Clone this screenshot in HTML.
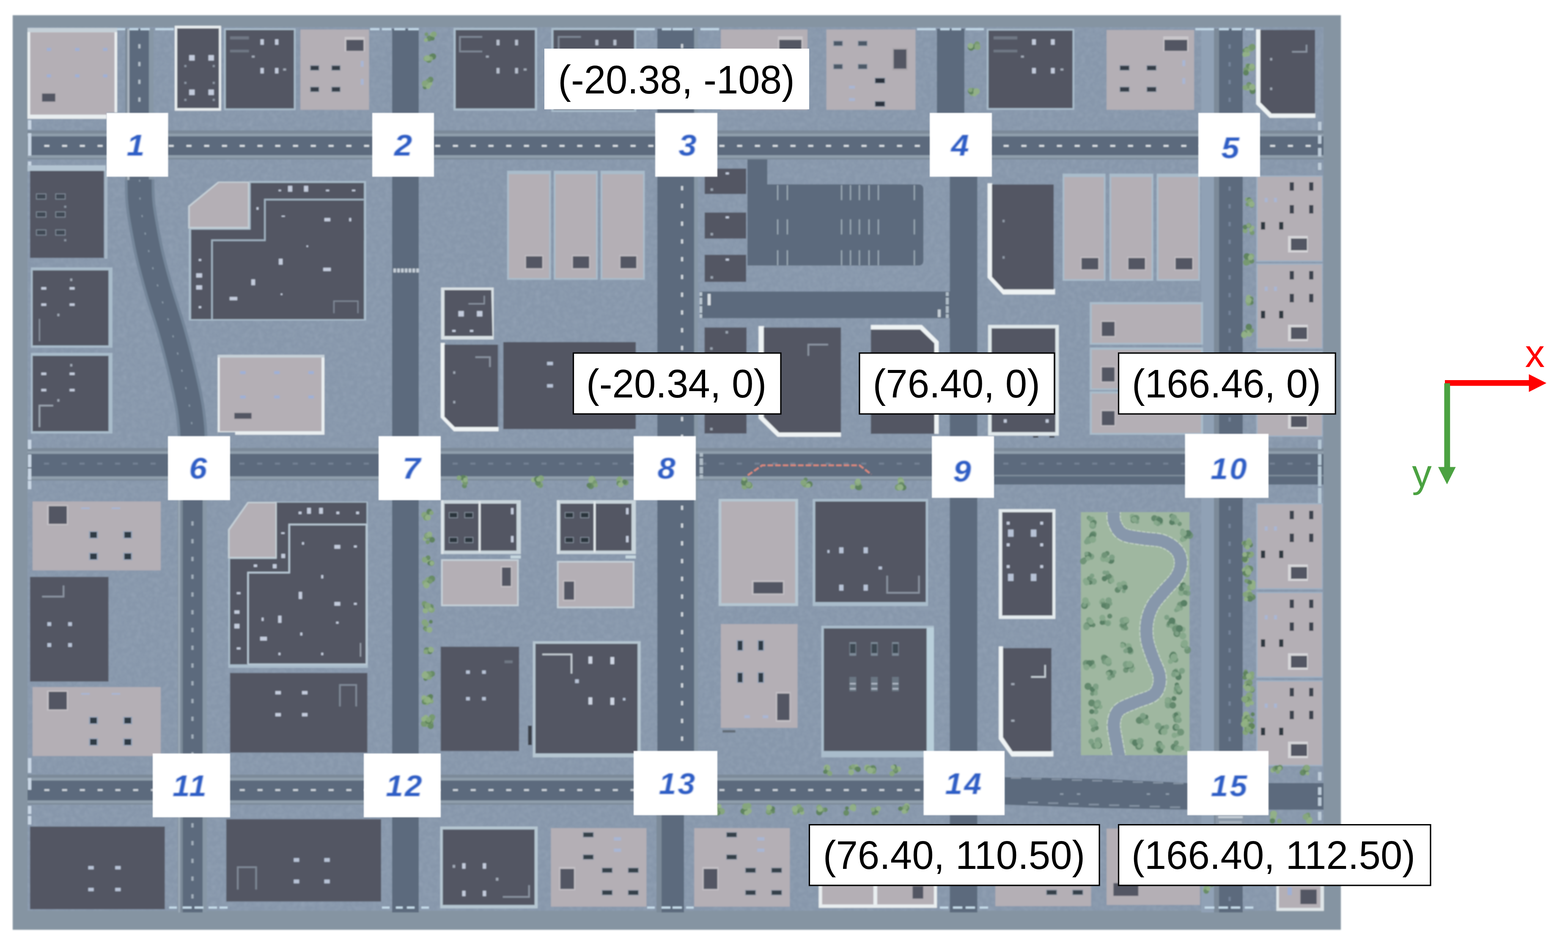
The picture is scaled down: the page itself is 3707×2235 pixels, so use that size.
<!DOCTYPE html>
<html><head><meta charset="utf-8"><title>Town map</title>
<style>
html,body{margin:0;padding:0;background:#fff;}
body{width:3707px;height:2235px;overflow:hidden;}
svg{display:block;}
text{font-family:"Liberation Sans",sans-serif;}
.n{font-weight:bold;font-style:italic;font-size:71px;fill:#2d5ec6;text-anchor:middle;}
.c{font-size:92.4px;fill:#000;text-anchor:middle;}
</style></head><body>
<svg width="3707" height="2235" viewBox="0 0 3707 2235">
<defs>
<filter id="nz" x="0" y="0" width="100%" height="100%"><feTurbulence type="fractalNoise" baseFrequency="0.09" numOctaves="2" seed="4"/><feColorMatrix type="matrix" values="0 0 0 0 0.64  0 0 0 0 0.72  0 0 0 0 0.82  0.9 0.9 0 0 -0.72"/></filter>
<filter id="tb" x="-20%" y="-20%" width="140%" height="140%"><feGaussianBlur stdDeviation="1.3"/></filter>
<filter id="soft" x="-1%" y="-1%" width="102%" height="102%"><feGaussianBlur stdDeviation="1.8"/></filter>
<filter id="soft2" x="-1%" y="-1%" width="102%" height="102%"><feGaussianBlur stdDeviation="1.1"/></filter>
<radialGradient id="tr"><stop offset="0" stop-color="#8fb07f"/><stop offset="0.7" stop-color="#7a9c72"/><stop offset="1" stop-color="#6d8f6c" stop-opacity="0.6"/></radialGradient>
<radialGradient id="tp"><stop offset="0" stop-color="#86a98a"/><stop offset="0.7" stop-color="#76997c"/><stop offset="1" stop-color="#6a8e74" stop-opacity="0.5"/></radialGradient>
</defs>
<g filter="url(#soft)">
<rect x="30.0" y="36.0" width="3140.0" height="2163.0" fill="#8594a2"/>
<rect x="65.0" y="64.0" width="3064.0" height="2090.0" fill="#8797ab"/>
<rect x="65" y="64" width="3064" height="2090" filter="url(#nz)" opacity="0.17"/>
<rect x="296.0" y="68.0" width="10.0" height="382.0" fill="#7b8a99"/>
<rect x="352.0" y="68.0" width="11.0" height="382.0" fill="#8797a6"/>
<rect x="306.0" y="68.0" width="46.0" height="382.0" fill="#5b6a7d"/>
<rect x="326.9" y="104.5" width="5.2" height="10.0" fill="#b4bec9"/>
<rect x="326.9" y="146.5" width="5.2" height="10.0" fill="#b4bec9"/>
<rect x="326.9" y="188.5" width="5.2" height="10.0" fill="#b4bec9"/>
<rect x="326.9" y="230.5" width="5.2" height="10.0" fill="#b4bec9"/>
<rect x="326.9" y="272.5" width="5.2" height="10.0" fill="#b4bec9"/>
<rect x="326.9" y="314.5" width="5.2" height="10.0" fill="#b4bec9"/>
<rect x="326.9" y="356.5" width="5.2" height="10.0" fill="#b4bec9"/>
<rect x="326.9" y="398.5" width="5.2" height="10.0" fill="#b4bec9"/>
<rect x="301.0" y="68.0" width="5.0" height="372.0" fill="#aab6c0"/>
<path d="M330.0,425.0 C330.2,432.5 330.0,455.7 331.0,470.0 C332.0,484.3 332.3,489.3 336.0,511.0 C339.7,532.7 346.2,570.3 353.0,600.0 C359.8,629.7 368.0,659.5 376.5,689.0 C385.0,718.5 395.5,747.5 404.0,777.0 C412.5,806.5 420.3,836.3 427.5,866.0 C434.7,895.7 442.6,931.0 447.0,955.0 C451.4,979.0 452.6,995.0 454.0,1010.0 C455.4,1025.0 455.2,1039.2 455.5,1045.0" fill="none" stroke="#75869a" stroke-width="70"/>
<path d="M330.0,425.0 C330.2,432.5 330.0,455.7 331.0,470.0 C332.0,484.3 332.3,489.3 336.0,511.0 C339.7,532.7 346.2,570.3 353.0,600.0 C359.8,629.7 368.0,659.5 376.5,689.0 C385.0,718.5 395.5,747.5 404.0,777.0 C412.5,806.5 420.3,836.3 427.5,866.0 C434.7,895.7 442.6,931.0 447.0,955.0 C451.4,979.0 452.6,995.0 454.0,1010.0 C455.4,1025.0 455.2,1039.2 455.5,1045.0" fill="none" stroke="#5b6a7d" stroke-width="57"/>
<path d="M330.0,425.0 C330.2,432.5 330.0,455.7 331.0,470.0 C332.0,484.3 332.3,489.3 336.0,511.0 C339.7,532.7 346.2,570.3 353.0,600.0 C359.8,629.7 368.0,659.5 376.5,689.0 C385.0,718.5 395.5,747.5 404.0,777.0 C412.5,806.5 420.3,836.3 427.5,866.0 C434.7,895.7 442.6,931.0 447.0,955.0 C451.4,979.0 452.6,995.0 454.0,1010.0 C455.4,1025.0 455.2,1039.2 455.5,1045.0" fill="none" stroke="#8b99a9" stroke-width="3" stroke-dasharray="5 37" />
<rect x="420.0" y="1180.0" width="12.0" height="978.0" fill="#7b8a99"/>
<rect x="479.0" y="1180.0" width="10.0" height="978.0" fill="#8797a6"/>
<rect x="432.0" y="1180.0" width="47.0" height="978.0" fill="#5b6a7d"/>
<rect x="452.4" y="1233.0" width="5.2" height="10.0" fill="#a3afbc"/>
<rect x="452.4" y="1275.0" width="5.2" height="10.0" fill="#a3afbc"/>
<rect x="452.4" y="1317.0" width="5.2" height="10.0" fill="#a3afbc"/>
<rect x="452.4" y="1359.0" width="5.2" height="10.0" fill="#a3afbc"/>
<rect x="452.4" y="1401.0" width="5.2" height="10.0" fill="#a3afbc"/>
<rect x="452.4" y="1443.0" width="5.2" height="10.0" fill="#a3afbc"/>
<rect x="452.4" y="1485.0" width="5.2" height="10.0" fill="#a3afbc"/>
<rect x="452.4" y="1527.0" width="5.2" height="10.0" fill="#a3afbc"/>
<rect x="452.4" y="1569.0" width="5.2" height="10.0" fill="#a3afbc"/>
<rect x="452.4" y="1611.0" width="5.2" height="10.0" fill="#a3afbc"/>
<rect x="452.4" y="1653.0" width="5.2" height="10.0" fill="#a3afbc"/>
<rect x="452.4" y="1695.0" width="5.2" height="10.0" fill="#a3afbc"/>
<rect x="452.4" y="1737.0" width="5.2" height="10.0" fill="#a3afbc"/>
<rect x="452.4" y="1779.0" width="5.2" height="10.0" fill="#a3afbc"/>
<rect x="452.4" y="1821.0" width="5.2" height="10.0" fill="#a3afbc"/>
<rect x="452.4" y="1863.0" width="5.2" height="10.0" fill="#a3afbc"/>
<rect x="452.4" y="1905.0" width="5.2" height="10.0" fill="#a3afbc"/>
<rect x="452.4" y="1947.0" width="5.2" height="10.0" fill="#a3afbc"/>
<rect x="452.4" y="1989.0" width="5.2" height="10.0" fill="#a3afbc"/>
<rect x="452.4" y="2031.0" width="5.2" height="10.0" fill="#a3afbc"/>
<rect x="452.4" y="2073.0" width="5.2" height="10.0" fill="#a3afbc"/>
<rect x="452.4" y="2115.0" width="5.2" height="10.0" fill="#a3afbc"/>
<rect x="421.0" y="1180.0" width="5.0" height="978.0" fill="#9aa8b5"/>
<rect x="927.0" y="68.0" width="63.0" height="2090.0" fill="#5b6a7d"/>
<rect x="1641.0" y="68.0" width="9.0" height="1712.0" fill="#8797a6"/>
<rect x="1554.0" y="68.0" width="87.0" height="1712.0" fill="#5b6a7d"/>
<rect x="1609.9" y="104.0" width="5.2" height="10.0" fill="#cfd5dc"/>
<rect x="1609.9" y="146.0" width="5.2" height="10.0" fill="#cfd5dc"/>
<rect x="1609.9" y="188.0" width="5.2" height="10.0" fill="#cfd5dc"/>
<rect x="1609.9" y="230.0" width="5.2" height="10.0" fill="#cfd5dc"/>
<rect x="1609.9" y="272.0" width="5.2" height="10.0" fill="#cfd5dc"/>
<rect x="1609.9" y="314.0" width="5.2" height="10.0" fill="#cfd5dc"/>
<rect x="1609.9" y="356.0" width="5.2" height="10.0" fill="#cfd5dc"/>
<rect x="1609.9" y="398.0" width="5.2" height="10.0" fill="#cfd5dc"/>
<rect x="1609.9" y="440.0" width="5.2" height="10.0" fill="#cfd5dc"/>
<rect x="1609.9" y="482.0" width="5.2" height="10.0" fill="#cfd5dc"/>
<rect x="1609.9" y="524.0" width="5.2" height="10.0" fill="#cfd5dc"/>
<rect x="1609.9" y="566.0" width="5.2" height="10.0" fill="#cfd5dc"/>
<rect x="1609.9" y="608.0" width="5.2" height="10.0" fill="#cfd5dc"/>
<rect x="1609.9" y="650.0" width="5.2" height="10.0" fill="#cfd5dc"/>
<rect x="1609.9" y="692.0" width="5.2" height="10.0" fill="#cfd5dc"/>
<rect x="1609.9" y="734.0" width="5.2" height="10.0" fill="#cfd5dc"/>
<rect x="1609.9" y="776.0" width="5.2" height="10.0" fill="#cfd5dc"/>
<rect x="1609.9" y="818.0" width="5.2" height="10.0" fill="#cfd5dc"/>
<rect x="1609.9" y="860.0" width="5.2" height="10.0" fill="#cfd5dc"/>
<rect x="1609.9" y="902.0" width="5.2" height="10.0" fill="#cfd5dc"/>
<rect x="1609.9" y="944.0" width="5.2" height="10.0" fill="#cfd5dc"/>
<rect x="1609.9" y="986.0" width="5.2" height="10.0" fill="#cfd5dc"/>
<rect x="1609.9" y="1028.0" width="5.2" height="10.0" fill="#cfd5dc"/>
<rect x="1609.9" y="1070.0" width="5.2" height="10.0" fill="#cfd5dc"/>
<rect x="1609.9" y="1112.0" width="5.2" height="10.0" fill="#cfd5dc"/>
<rect x="1609.9" y="1154.0" width="5.2" height="10.0" fill="#cfd5dc"/>
<rect x="1609.9" y="1196.0" width="5.2" height="10.0" fill="#cfd5dc"/>
<rect x="1609.9" y="1238.0" width="5.2" height="10.0" fill="#cfd5dc"/>
<rect x="1609.9" y="1280.0" width="5.2" height="10.0" fill="#cfd5dc"/>
<rect x="1609.9" y="1322.0" width="5.2" height="10.0" fill="#cfd5dc"/>
<rect x="1609.9" y="1364.0" width="5.2" height="10.0" fill="#cfd5dc"/>
<rect x="1609.9" y="1406.0" width="5.2" height="10.0" fill="#cfd5dc"/>
<rect x="1609.9" y="1448.0" width="5.2" height="10.0" fill="#cfd5dc"/>
<rect x="1609.9" y="1490.0" width="5.2" height="10.0" fill="#cfd5dc"/>
<rect x="1609.9" y="1532.0" width="5.2" height="10.0" fill="#cfd5dc"/>
<rect x="1609.9" y="1574.0" width="5.2" height="10.0" fill="#cfd5dc"/>
<rect x="1609.9" y="1616.0" width="5.2" height="10.0" fill="#cfd5dc"/>
<rect x="1609.9" y="1658.0" width="5.2" height="10.0" fill="#cfd5dc"/>
<rect x="1609.9" y="1700.0" width="5.2" height="10.0" fill="#cfd5dc"/>
<rect x="1609.9" y="1742.0" width="5.2" height="10.0" fill="#cfd5dc"/>
<rect x="1552.0" y="1920.0" width="12.0" height="238.0" fill="#7b8a99"/>
<rect x="1564.0" y="1920.0" width="53.0" height="238.0" fill="#5b6a7d"/>
<rect x="2215.0" y="68.0" width="65.0" height="202.0" fill="#5b6a7d"/>
<rect x="2245.5" y="410.0" width="65.0" height="1748.0" fill="#5b6a7d"/>
<rect x="2870.0" y="68.0" width="12.0" height="2090.0" fill="#7b8a99"/>
<rect x="2882.0" y="68.0" width="56.0" height="2090.0" fill="#5b6a7d"/>
<rect x="2904.4" y="105.0" width="5.2" height="10.0" fill="#74839a"/>
<rect x="2904.4" y="147.0" width="5.2" height="10.0" fill="#74839a"/>
<rect x="2904.4" y="189.0" width="5.2" height="10.0" fill="#74839a"/>
<rect x="2904.4" y="231.0" width="5.2" height="10.0" fill="#74839a"/>
<rect x="2904.4" y="273.0" width="5.2" height="10.0" fill="#74839a"/>
<rect x="2904.4" y="315.0" width="5.2" height="10.0" fill="#74839a"/>
<rect x="2904.4" y="357.0" width="5.2" height="10.0" fill="#74839a"/>
<rect x="2904.4" y="399.0" width="5.2" height="10.0" fill="#74839a"/>
<rect x="2904.4" y="441.0" width="5.2" height="10.0" fill="#74839a"/>
<rect x="2904.4" y="483.0" width="5.2" height="10.0" fill="#74839a"/>
<rect x="2904.4" y="525.0" width="5.2" height="10.0" fill="#74839a"/>
<rect x="2904.4" y="567.0" width="5.2" height="10.0" fill="#74839a"/>
<rect x="2904.4" y="609.0" width="5.2" height="10.0" fill="#74839a"/>
<rect x="2904.4" y="651.0" width="5.2" height="10.0" fill="#74839a"/>
<rect x="2904.4" y="693.0" width="5.2" height="10.0" fill="#74839a"/>
<rect x="2904.4" y="735.0" width="5.2" height="10.0" fill="#74839a"/>
<rect x="2904.4" y="777.0" width="5.2" height="10.0" fill="#74839a"/>
<rect x="2904.4" y="819.0" width="5.2" height="10.0" fill="#74839a"/>
<rect x="2904.4" y="861.0" width="5.2" height="10.0" fill="#74839a"/>
<rect x="2904.4" y="903.0" width="5.2" height="10.0" fill="#74839a"/>
<rect x="2904.4" y="945.0" width="5.2" height="10.0" fill="#74839a"/>
<rect x="2904.4" y="987.0" width="5.2" height="10.0" fill="#74839a"/>
<rect x="2904.4" y="1029.0" width="5.2" height="10.0" fill="#74839a"/>
<rect x="2904.4" y="1071.0" width="5.2" height="10.0" fill="#74839a"/>
<rect x="2904.4" y="1113.0" width="5.2" height="10.0" fill="#74839a"/>
<rect x="2904.4" y="1155.0" width="5.2" height="10.0" fill="#74839a"/>
<rect x="2904.4" y="1197.0" width="5.2" height="10.0" fill="#74839a"/>
<rect x="2904.4" y="1239.0" width="5.2" height="10.0" fill="#74839a"/>
<rect x="2904.4" y="1281.0" width="5.2" height="10.0" fill="#74839a"/>
<rect x="2904.4" y="1323.0" width="5.2" height="10.0" fill="#74839a"/>
<rect x="2904.4" y="1365.0" width="5.2" height="10.0" fill="#74839a"/>
<rect x="2904.4" y="1407.0" width="5.2" height="10.0" fill="#74839a"/>
<rect x="2904.4" y="1449.0" width="5.2" height="10.0" fill="#74839a"/>
<rect x="2904.4" y="1491.0" width="5.2" height="10.0" fill="#74839a"/>
<rect x="2904.4" y="1533.0" width="5.2" height="10.0" fill="#74839a"/>
<rect x="2904.4" y="1575.0" width="5.2" height="10.0" fill="#74839a"/>
<rect x="2904.4" y="1617.0" width="5.2" height="10.0" fill="#74839a"/>
<rect x="2904.4" y="1659.0" width="5.2" height="10.0" fill="#74839a"/>
<rect x="2904.4" y="1701.0" width="5.2" height="10.0" fill="#74839a"/>
<rect x="2904.4" y="1743.0" width="5.2" height="10.0" fill="#74839a"/>
<rect x="2904.4" y="1785.0" width="5.2" height="10.0" fill="#74839a"/>
<rect x="2904.4" y="1827.0" width="5.2" height="10.0" fill="#74839a"/>
<rect x="2904.4" y="1869.0" width="5.2" height="10.0" fill="#74839a"/>
<rect x="2904.4" y="1911.0" width="5.2" height="10.0" fill="#74839a"/>
<rect x="2904.4" y="1953.0" width="5.2" height="10.0" fill="#74839a"/>
<rect x="2904.4" y="1995.0" width="5.2" height="10.0" fill="#74839a"/>
<rect x="2904.4" y="2037.0" width="5.2" height="10.0" fill="#74839a"/>
<rect x="2904.4" y="2079.0" width="5.2" height="10.0" fill="#74839a"/>
<rect x="2904.4" y="2121.0" width="5.2" height="10.0" fill="#74839a"/>
<rect x="2840.0" y="68.0" width="30.0" height="2090.0" fill="#90a1b5"/>
<rect x="2874.0" y="1926.0" width="68.0" height="26.0" fill="#8a98a8"/>
<rect x="2880.0" y="1930.0" width="58.0" height="5.0" fill="#c5ced6"/>
<rect x="2882.0" y="1942.0" width="54.0" height="5.0" fill="#a9b4bf"/>
<rect x="1767" y="436" width="416" height="192" rx="10" fill="#5b6a7d"/>
<rect x="1767.0" y="376.0" width="47.0" height="74.0" fill="#5b6a7d"/>
<rect x="1767.0" y="436.0" width="33.0" height="192.0" fill="#5b6a7d"/>
<rect x="1654.0" y="689.5" width="592.0" height="63.0" fill="#5b6a7d"/>
<rect x="1837.0" y="437.7" width="3.2" height="35.7" fill="#9aa7b3"/>
<rect x="1837.0" y="518.8" width="3.2" height="35.7" fill="#9aa7b3"/>
<rect x="1837.0" y="591.9" width="3.2" height="35.7" fill="#9aa7b3"/>
<rect x="1859.8" y="437.7" width="3.2" height="35.7" fill="#9aa7b3"/>
<rect x="1859.8" y="518.8" width="3.2" height="35.7" fill="#9aa7b3"/>
<rect x="1859.8" y="591.9" width="3.2" height="35.7" fill="#9aa7b3"/>
<rect x="1988.0" y="437.7" width="3.2" height="35.7" fill="#9aa7b3"/>
<rect x="1988.0" y="518.8" width="3.2" height="35.7" fill="#9aa7b3"/>
<rect x="1988.0" y="591.9" width="3.2" height="35.7" fill="#9aa7b3"/>
<rect x="2009.1" y="437.7" width="3.2" height="35.7" fill="#9aa7b3"/>
<rect x="2009.1" y="518.8" width="3.2" height="35.7" fill="#9aa7b3"/>
<rect x="2009.1" y="591.9" width="3.2" height="35.7" fill="#9aa7b3"/>
<rect x="2030.2" y="437.7" width="3.2" height="35.7" fill="#9aa7b3"/>
<rect x="2030.2" y="518.8" width="3.2" height="35.7" fill="#9aa7b3"/>
<rect x="2030.2" y="591.9" width="3.2" height="35.7" fill="#9aa7b3"/>
<rect x="2052.9" y="437.7" width="3.2" height="35.7" fill="#9aa7b3"/>
<rect x="2052.9" y="518.8" width="3.2" height="35.7" fill="#9aa7b3"/>
<rect x="2052.9" y="591.9" width="3.2" height="35.7" fill="#9aa7b3"/>
<rect x="2075.0" y="437.7" width="3.2" height="35.7" fill="#9aa7b3"/>
<rect x="2075.0" y="518.8" width="3.2" height="35.7" fill="#9aa7b3"/>
<rect x="2075.0" y="591.9" width="3.2" height="35.7" fill="#9aa7b3"/>
<rect x="2160.1" y="437.7" width="3.2" height="35.7" fill="#9aa7b3"/>
<rect x="2160.1" y="518.8" width="3.2" height="35.7" fill="#9aa7b3"/>
<rect x="2160.1" y="591.9" width="3.2" height="35.7" fill="#9aa7b3"/>
<rect x="65.0" y="308.5" width="3064.0" height="68.5" fill="#7b8a99"/>
<rect x="65.0" y="316.0" width="3064.0" height="57.5" fill="#8f9eac"/>
<rect x="65.0" y="322.5" width="3064.0" height="44.5" fill="#5b6a7d"/>
<rect x="104.7" y="342.6" width="12.0" height="4.8" fill="#d9dee3"/>
<rect x="146.7" y="342.6" width="12.0" height="4.8" fill="#d9dee3"/>
<rect x="188.7" y="342.6" width="12.0" height="4.8" fill="#d9dee3"/>
<rect x="230.7" y="342.6" width="12.0" height="4.8" fill="#d9dee3"/>
<rect x="272.7" y="342.6" width="12.0" height="4.8" fill="#d9dee3"/>
<rect x="314.7" y="342.6" width="12.0" height="4.8" fill="#d9dee3"/>
<rect x="356.7" y="342.6" width="12.0" height="4.8" fill="#d9dee3"/>
<rect x="398.7" y="342.6" width="12.0" height="4.8" fill="#d9dee3"/>
<rect x="440.7" y="342.6" width="12.0" height="4.8" fill="#d9dee3"/>
<rect x="482.7" y="342.6" width="12.0" height="4.8" fill="#d9dee3"/>
<rect x="524.7" y="342.6" width="12.0" height="4.8" fill="#d9dee3"/>
<rect x="566.7" y="342.6" width="12.0" height="4.8" fill="#d9dee3"/>
<rect x="608.7" y="342.6" width="12.0" height="4.8" fill="#d9dee3"/>
<rect x="650.7" y="342.6" width="12.0" height="4.8" fill="#d9dee3"/>
<rect x="692.7" y="342.6" width="12.0" height="4.8" fill="#d9dee3"/>
<rect x="734.7" y="342.6" width="12.0" height="4.8" fill="#d9dee3"/>
<rect x="776.7" y="342.6" width="12.0" height="4.8" fill="#d9dee3"/>
<rect x="818.7" y="342.6" width="12.0" height="4.8" fill="#d9dee3"/>
<rect x="860.7" y="342.6" width="12.0" height="4.8" fill="#d9dee3"/>
<rect x="902.7" y="342.6" width="12.0" height="4.8" fill="#d9dee3"/>
<rect x="944.7" y="342.6" width="12.0" height="4.8" fill="#d9dee3"/>
<rect x="986.7" y="342.6" width="12.0" height="4.8" fill="#d9dee3"/>
<rect x="1028.7" y="342.6" width="12.0" height="4.8" fill="#d9dee3"/>
<rect x="1070.7" y="342.6" width="12.0" height="4.8" fill="#d9dee3"/>
<rect x="1112.7" y="342.6" width="12.0" height="4.8" fill="#d9dee3"/>
<rect x="1154.7" y="342.6" width="12.0" height="4.8" fill="#d9dee3"/>
<rect x="1196.7" y="342.6" width="12.0" height="4.8" fill="#d9dee3"/>
<rect x="1238.7" y="342.6" width="12.0" height="4.8" fill="#d9dee3"/>
<rect x="1280.7" y="342.6" width="12.0" height="4.8" fill="#d9dee3"/>
<rect x="1322.7" y="342.6" width="12.0" height="4.8" fill="#d9dee3"/>
<rect x="1364.7" y="342.6" width="12.0" height="4.8" fill="#d9dee3"/>
<rect x="1406.7" y="342.6" width="12.0" height="4.8" fill="#d9dee3"/>
<rect x="1448.7" y="342.6" width="12.0" height="4.8" fill="#d9dee3"/>
<rect x="1490.7" y="342.6" width="12.0" height="4.8" fill="#d9dee3"/>
<rect x="1532.7" y="342.6" width="12.0" height="4.8" fill="#d9dee3"/>
<rect x="1574.7" y="342.6" width="12.0" height="4.8" fill="#d9dee3"/>
<rect x="1616.7" y="342.6" width="12.0" height="4.8" fill="#d9dee3"/>
<rect x="1658.7" y="342.6" width="12.0" height="4.8" fill="#d9dee3"/>
<rect x="1700.7" y="342.6" width="12.0" height="4.8" fill="#d9dee3"/>
<rect x="1742.7" y="342.6" width="12.0" height="4.8" fill="#d9dee3"/>
<rect x="1784.7" y="342.6" width="12.0" height="4.8" fill="#d9dee3"/>
<rect x="1826.7" y="342.6" width="12.0" height="4.8" fill="#d9dee3"/>
<rect x="1868.7" y="342.6" width="12.0" height="4.8" fill="#d9dee3"/>
<rect x="1910.7" y="342.6" width="12.0" height="4.8" fill="#d9dee3"/>
<rect x="1952.7" y="342.6" width="12.0" height="4.8" fill="#d9dee3"/>
<rect x="1994.7" y="342.6" width="12.0" height="4.8" fill="#d9dee3"/>
<rect x="2036.7" y="342.6" width="12.0" height="4.8" fill="#d9dee3"/>
<rect x="2078.7" y="342.6" width="12.0" height="4.8" fill="#d9dee3"/>
<rect x="2120.7" y="342.6" width="12.0" height="4.8" fill="#d9dee3"/>
<rect x="2162.7" y="342.6" width="12.0" height="4.8" fill="#d9dee3"/>
<rect x="2204.7" y="342.6" width="12.0" height="4.8" fill="#d9dee3"/>
<rect x="2246.7" y="342.6" width="12.0" height="4.8" fill="#d9dee3"/>
<rect x="2288.7" y="342.6" width="12.0" height="4.8" fill="#d9dee3"/>
<rect x="2330.7" y="342.6" width="12.0" height="4.8" fill="#d9dee3"/>
<rect x="2372.7" y="342.6" width="12.0" height="4.8" fill="#d9dee3"/>
<rect x="2414.7" y="342.6" width="12.0" height="4.8" fill="#d9dee3"/>
<rect x="2456.7" y="342.6" width="12.0" height="4.8" fill="#d9dee3"/>
<rect x="2498.7" y="342.6" width="12.0" height="4.8" fill="#d9dee3"/>
<rect x="2540.7" y="342.6" width="12.0" height="4.8" fill="#d9dee3"/>
<rect x="2582.7" y="342.6" width="12.0" height="4.8" fill="#d9dee3"/>
<rect x="2624.7" y="342.6" width="12.0" height="4.8" fill="#d9dee3"/>
<rect x="2666.7" y="342.6" width="12.0" height="4.8" fill="#d9dee3"/>
<rect x="2708.7" y="342.6" width="12.0" height="4.8" fill="#d9dee3"/>
<rect x="2750.7" y="342.6" width="12.0" height="4.8" fill="#d9dee3"/>
<rect x="2792.7" y="342.6" width="12.0" height="4.8" fill="#d9dee3"/>
<rect x="2834.7" y="342.6" width="12.0" height="4.8" fill="#d9dee3"/>
<rect x="2876.7" y="342.6" width="12.0" height="4.8" fill="#d9dee3"/>
<rect x="2918.7" y="342.6" width="12.0" height="4.8" fill="#d9dee3"/>
<rect x="2960.7" y="342.6" width="12.0" height="4.8" fill="#d9dee3"/>
<rect x="3002.7" y="342.6" width="12.0" height="4.8" fill="#d9dee3"/>
<rect x="3044.7" y="342.6" width="12.0" height="4.8" fill="#d9dee3"/>
<rect x="3086.7" y="342.6" width="12.0" height="4.8" fill="#d9dee3"/>
<rect x="65.0" y="1059.5" width="3064.0" height="77.0" fill="#7b8a99"/>
<rect x="65.0" y="1067.0" width="3064.0" height="66.0" fill="#8f9eac"/>
<rect x="65.0" y="1073.5" width="3064.0" height="53.0" fill="#5b6a7d"/>
<rect x="104.0" y="1094.1" width="12.0" height="4.8" fill="#728093"/>
<rect x="146.0" y="1094.1" width="12.0" height="4.8" fill="#728093"/>
<rect x="188.0" y="1094.1" width="12.0" height="4.8" fill="#728093"/>
<rect x="230.0" y="1094.1" width="12.0" height="4.8" fill="#728093"/>
<rect x="272.0" y="1094.1" width="12.0" height="4.8" fill="#728093"/>
<rect x="314.0" y="1094.1" width="12.0" height="4.8" fill="#728093"/>
<rect x="356.0" y="1094.1" width="12.0" height="4.8" fill="#728093"/>
<rect x="398.0" y="1094.1" width="12.0" height="4.8" fill="#728093"/>
<rect x="440.0" y="1094.1" width="12.0" height="4.8" fill="#728093"/>
<rect x="482.0" y="1094.1" width="12.0" height="4.8" fill="#728093"/>
<rect x="524.0" y="1094.1" width="12.0" height="4.8" fill="#728093"/>
<rect x="566.0" y="1094.1" width="12.0" height="4.8" fill="#728093"/>
<rect x="608.0" y="1094.1" width="12.0" height="4.8" fill="#728093"/>
<rect x="650.0" y="1094.1" width="12.0" height="4.8" fill="#728093"/>
<rect x="692.0" y="1094.1" width="12.0" height="4.8" fill="#728093"/>
<rect x="734.0" y="1094.1" width="12.0" height="4.8" fill="#728093"/>
<rect x="776.0" y="1094.1" width="12.0" height="4.8" fill="#728093"/>
<rect x="818.0" y="1094.1" width="12.0" height="4.8" fill="#728093"/>
<rect x="860.0" y="1094.1" width="12.0" height="4.8" fill="#728093"/>
<rect x="902.0" y="1094.1" width="12.0" height="4.8" fill="#728093"/>
<rect x="944.0" y="1094.1" width="12.0" height="4.8" fill="#728093"/>
<rect x="986.0" y="1094.1" width="12.0" height="4.8" fill="#728093"/>
<rect x="1028.0" y="1094.1" width="12.0" height="4.8" fill="#728093"/>
<rect x="1070.0" y="1094.1" width="12.0" height="4.8" fill="#728093"/>
<rect x="1112.0" y="1094.1" width="12.0" height="4.8" fill="#728093"/>
<rect x="1154.0" y="1094.1" width="12.0" height="4.8" fill="#728093"/>
<rect x="1196.0" y="1094.1" width="12.0" height="4.8" fill="#728093"/>
<rect x="1238.0" y="1094.1" width="12.0" height="4.8" fill="#728093"/>
<rect x="1280.0" y="1094.1" width="12.0" height="4.8" fill="#728093"/>
<rect x="1322.0" y="1094.1" width="12.0" height="4.8" fill="#728093"/>
<rect x="1364.0" y="1094.1" width="12.0" height="4.8" fill="#728093"/>
<rect x="1406.0" y="1094.1" width="12.0" height="4.8" fill="#728093"/>
<rect x="1448.0" y="1094.1" width="12.0" height="4.8" fill="#728093"/>
<rect x="1490.0" y="1094.1" width="12.0" height="4.8" fill="#728093"/>
<rect x="1532.0" y="1094.1" width="12.0" height="4.8" fill="#728093"/>
<rect x="1574.0" y="1094.1" width="12.0" height="4.8" fill="#728093"/>
<rect x="1616.0" y="1094.1" width="12.0" height="4.8" fill="#728093"/>
<rect x="1658.0" y="1094.1" width="12.0" height="4.8" fill="#728093"/>
<rect x="1700.0" y="1094.1" width="12.0" height="4.8" fill="#728093"/>
<rect x="1742.0" y="1094.1" width="12.0" height="4.8" fill="#728093"/>
<rect x="1784.0" y="1094.1" width="12.0" height="4.8" fill="#728093"/>
<rect x="1826.0" y="1094.1" width="12.0" height="4.8" fill="#728093"/>
<rect x="1868.0" y="1094.1" width="12.0" height="4.8" fill="#728093"/>
<rect x="1910.0" y="1094.1" width="12.0" height="4.8" fill="#728093"/>
<rect x="1952.0" y="1094.1" width="12.0" height="4.8" fill="#728093"/>
<rect x="1994.0" y="1094.1" width="12.0" height="4.8" fill="#728093"/>
<rect x="2036.0" y="1094.1" width="12.0" height="4.8" fill="#728093"/>
<rect x="2078.0" y="1094.1" width="12.0" height="4.8" fill="#728093"/>
<rect x="2120.0" y="1094.1" width="12.0" height="4.8" fill="#728093"/>
<rect x="2162.0" y="1094.1" width="12.0" height="4.8" fill="#728093"/>
<rect x="2204.0" y="1094.1" width="12.0" height="4.8" fill="#728093"/>
<rect x="2246.0" y="1094.1" width="12.0" height="4.8" fill="#728093"/>
<rect x="2288.0" y="1094.1" width="12.0" height="4.8" fill="#728093"/>
<rect x="2330.0" y="1094.1" width="12.0" height="4.8" fill="#728093"/>
<rect x="2372.0" y="1094.1" width="12.0" height="4.8" fill="#728093"/>
<rect x="2414.0" y="1094.1" width="12.0" height="4.8" fill="#728093"/>
<rect x="2456.0" y="1094.1" width="12.0" height="4.8" fill="#728093"/>
<rect x="2498.0" y="1094.1" width="12.0" height="4.8" fill="#728093"/>
<rect x="2540.0" y="1094.1" width="12.0" height="4.8" fill="#728093"/>
<rect x="2582.0" y="1094.1" width="12.0" height="4.8" fill="#728093"/>
<rect x="2624.0" y="1094.1" width="12.0" height="4.8" fill="#728093"/>
<rect x="2666.0" y="1094.1" width="12.0" height="4.8" fill="#728093"/>
<rect x="2708.0" y="1094.1" width="12.0" height="4.8" fill="#728093"/>
<rect x="2750.0" y="1094.1" width="12.0" height="4.8" fill="#728093"/>
<rect x="2792.0" y="1094.1" width="12.0" height="4.8" fill="#728093"/>
<rect x="2834.0" y="1094.1" width="12.0" height="4.8" fill="#728093"/>
<rect x="2876.0" y="1094.1" width="12.0" height="4.8" fill="#728093"/>
<rect x="2918.0" y="1094.1" width="12.0" height="4.8" fill="#728093"/>
<rect x="2960.0" y="1094.1" width="12.0" height="4.8" fill="#728093"/>
<rect x="3002.0" y="1094.1" width="12.0" height="4.8" fill="#728093"/>
<rect x="3044.0" y="1094.1" width="12.0" height="4.8" fill="#728093"/>
<rect x="3086.0" y="1094.1" width="12.0" height="4.8" fill="#728093"/>
<rect x="2350.0" y="1124.0" width="779.0" height="22.0" fill="#5b6a7d"/>
<rect x="2350.0" y="1123.0" width="779.0" height="3.5" fill="#7e8c9b"/>
<rect x="65.0" y="1832.0" width="2135.0" height="71.0" fill="#7b8a99"/>
<rect x="65.0" y="1839.5" width="2135.0" height="60.0" fill="#8f9eac"/>
<rect x="65.0" y="1846.0" width="2135.0" height="47.0" fill="#5b6a7d"/>
<rect x="104.7" y="1866.1" width="12.0" height="4.8" fill="#c9d0d8"/>
<rect x="146.7" y="1866.1" width="12.0" height="4.8" fill="#c9d0d8"/>
<rect x="188.7" y="1866.1" width="12.0" height="4.8" fill="#c9d0d8"/>
<rect x="230.7" y="1866.1" width="12.0" height="4.8" fill="#c9d0d8"/>
<rect x="272.7" y="1866.1" width="12.0" height="4.8" fill="#c9d0d8"/>
<rect x="314.7" y="1866.1" width="12.0" height="4.8" fill="#c9d0d8"/>
<rect x="356.7" y="1866.1" width="12.0" height="4.8" fill="#c9d0d8"/>
<rect x="398.7" y="1866.1" width="12.0" height="4.8" fill="#c9d0d8"/>
<rect x="440.7" y="1866.1" width="12.0" height="4.8" fill="#c9d0d8"/>
<rect x="482.7" y="1866.1" width="12.0" height="4.8" fill="#c9d0d8"/>
<rect x="524.7" y="1866.1" width="12.0" height="4.8" fill="#c9d0d8"/>
<rect x="566.7" y="1866.1" width="12.0" height="4.8" fill="#c9d0d8"/>
<rect x="608.7" y="1866.1" width="12.0" height="4.8" fill="#c9d0d8"/>
<rect x="650.7" y="1866.1" width="12.0" height="4.8" fill="#c9d0d8"/>
<rect x="692.7" y="1866.1" width="12.0" height="4.8" fill="#c9d0d8"/>
<rect x="734.7" y="1866.1" width="12.0" height="4.8" fill="#c9d0d8"/>
<rect x="776.7" y="1866.1" width="12.0" height="4.8" fill="#c9d0d8"/>
<rect x="818.7" y="1866.1" width="12.0" height="4.8" fill="#c9d0d8"/>
<rect x="860.7" y="1866.1" width="12.0" height="4.8" fill="#c9d0d8"/>
<rect x="902.7" y="1866.1" width="12.0" height="4.8" fill="#c9d0d8"/>
<rect x="944.7" y="1866.1" width="12.0" height="4.8" fill="#c9d0d8"/>
<rect x="986.7" y="1866.1" width="12.0" height="4.8" fill="#c9d0d8"/>
<rect x="1028.7" y="1866.1" width="12.0" height="4.8" fill="#c9d0d8"/>
<rect x="1070.7" y="1866.1" width="12.0" height="4.8" fill="#c9d0d8"/>
<rect x="1112.7" y="1866.1" width="12.0" height="4.8" fill="#c9d0d8"/>
<rect x="1154.7" y="1866.1" width="12.0" height="4.8" fill="#c9d0d8"/>
<rect x="1196.7" y="1866.1" width="12.0" height="4.8" fill="#c9d0d8"/>
<rect x="1238.7" y="1866.1" width="12.0" height="4.8" fill="#c9d0d8"/>
<rect x="1280.7" y="1866.1" width="12.0" height="4.8" fill="#c9d0d8"/>
<rect x="1322.7" y="1866.1" width="12.0" height="4.8" fill="#c9d0d8"/>
<rect x="1364.7" y="1866.1" width="12.0" height="4.8" fill="#c9d0d8"/>
<rect x="1406.7" y="1866.1" width="12.0" height="4.8" fill="#c9d0d8"/>
<rect x="1448.7" y="1866.1" width="12.0" height="4.8" fill="#c9d0d8"/>
<rect x="1490.7" y="1866.1" width="12.0" height="4.8" fill="#c9d0d8"/>
<rect x="1532.7" y="1866.1" width="12.0" height="4.8" fill="#c9d0d8"/>
<rect x="1574.7" y="1866.1" width="12.0" height="4.8" fill="#c9d0d8"/>
<rect x="1616.7" y="1866.1" width="12.0" height="4.8" fill="#c9d0d8"/>
<rect x="1658.7" y="1866.1" width="12.0" height="4.8" fill="#c9d0d8"/>
<rect x="1700.7" y="1866.1" width="12.0" height="4.8" fill="#c9d0d8"/>
<rect x="1742.7" y="1866.1" width="12.0" height="4.8" fill="#c9d0d8"/>
<rect x="1784.7" y="1866.1" width="12.0" height="4.8" fill="#c9d0d8"/>
<rect x="1826.7" y="1866.1" width="12.0" height="4.8" fill="#c9d0d8"/>
<rect x="1868.7" y="1866.1" width="12.0" height="4.8" fill="#c9d0d8"/>
<rect x="1910.7" y="1866.1" width="12.0" height="4.8" fill="#c9d0d8"/>
<rect x="1952.7" y="1866.1" width="12.0" height="4.8" fill="#c9d0d8"/>
<rect x="1994.7" y="1866.1" width="12.0" height="4.8" fill="#c9d0d8"/>
<rect x="2036.7" y="1866.1" width="12.0" height="4.8" fill="#c9d0d8"/>
<rect x="2078.7" y="1866.1" width="12.0" height="4.8" fill="#c9d0d8"/>
<rect x="2120.7" y="1866.1" width="12.0" height="4.8" fill="#c9d0d8"/>
<rect x="2162.7" y="1866.1" width="12.0" height="4.8" fill="#c9d0d8"/>
<polygon points="2375.0,1838.0 2600.0,1842.0 2810.0,1852.0 3129.0,1852.0 3129.0,1915.0 2810.0,1915.0 2600.0,1911.0 2375.0,1903.0" fill="#5b6a7d"/>
<rect x="2390.0" y="1838.0" width="24.0" height="4.0" fill="#8290a0"/>
<rect x="2430.0" y="1896.0" width="24.0" height="4.0" fill="#8290a0"/>
<rect x="2438.0" y="1839.6" width="24.0" height="4.0" fill="#8290a0"/>
<rect x="2478.0" y="1897.6" width="24.0" height="4.0" fill="#8290a0"/>
<rect x="2486.0" y="1841.2" width="24.0" height="4.0" fill="#8290a0"/>
<rect x="2526.0" y="1899.2" width="24.0" height="4.0" fill="#8290a0"/>
<rect x="2534.0" y="1842.8" width="24.0" height="4.0" fill="#8290a0"/>
<rect x="2574.0" y="1900.8" width="24.0" height="4.0" fill="#8290a0"/>
<rect x="2582.0" y="1844.4" width="24.0" height="4.0" fill="#8290a0"/>
<rect x="2622.0" y="1902.4" width="24.0" height="4.0" fill="#8290a0"/>
<rect x="2630.0" y="1846.0" width="24.0" height="4.0" fill="#8290a0"/>
<rect x="2670.0" y="1904.0" width="24.0" height="4.0" fill="#8290a0"/>
<rect x="2678.0" y="1847.6" width="24.0" height="4.0" fill="#8290a0"/>
<rect x="2718.0" y="1905.6" width="24.0" height="4.0" fill="#8290a0"/>
<rect x="2726.0" y="1849.2" width="24.0" height="4.0" fill="#8290a0"/>
<rect x="2766.0" y="1907.2" width="24.0" height="4.0" fill="#8290a0"/>
<rect x="2774.0" y="1850.8" width="24.0" height="4.0" fill="#8290a0"/>
<rect x="2814.0" y="1908.8" width="24.0" height="4.0" fill="#8290a0"/>
<rect x="2506.0" y="1876.0" width="8.0" height="4.0" fill="#8a98a8"/>
<rect x="2546.0" y="1876.0" width="8.0" height="4.0" fill="#8a98a8"/>
<rect x="2711.0" y="1876.0" width="8.0" height="4.0" fill="#8a98a8"/>
<rect x="2756.0" y="1876.0" width="8.0" height="4.0" fill="#8a98a8"/>
<rect x="277.0" y="66.5" width="19.0" height="5.0" fill="#c3d9e8"/>
<rect x="306.0" y="66.5" width="21.0" height="5.0" fill="#c3d9e8"/>
<rect x="332.0" y="66.5" width="22.0" height="5.0" fill="#c3d9e8"/>
<rect x="367.0" y="66.5" width="44.0" height="5.0" fill="#c3d9e8"/>
<rect x="875.0" y="66.5" width="22.0" height="5.0" fill="#c3d9e8"/>
<rect x="903.0" y="66.5" width="22.0" height="5.0" fill="#c3d9e8"/>
<rect x="932.0" y="66.5" width="26.0" height="5.0" fill="#c3d9e8"/>
<rect x="965.0" y="66.5" width="25.0" height="5.0" fill="#c3d9e8"/>
<rect x="0.0" y="66.5" width="0.0" height="5.0" fill="#c3d9e8"/>
<rect x="1504.0" y="66.5" width="44.0" height="5.0" fill="#c3d9e8"/>
<rect x="1565.0" y="66.5" width="22.0" height="5.0" fill="#c3d9e8"/>
<rect x="1590.0" y="66.5" width="47.0" height="5.0" fill="#c3d9e8"/>
<rect x="1656.0" y="66.5" width="44.0" height="5.0" fill="#c3d9e8"/>
<rect x="2168.0" y="66.5" width="44.0" height="5.0" fill="#c3d9e8"/>
<rect x="2223.0" y="66.5" width="22.0" height="5.0" fill="#c3d9e8"/>
<rect x="2250.0" y="66.5" width="22.0" height="5.0" fill="#c3d9e8"/>
<rect x="2283.0" y="66.5" width="43.0" height="5.0" fill="#c3d9e8"/>
<rect x="2826.0" y="66.5" width="44.0" height="5.0" fill="#c3d9e8"/>
<rect x="2882.0" y="66.5" width="23.0" height="5.0" fill="#c3d9e8"/>
<rect x="2912.0" y="66.5" width="23.0" height="5.0" fill="#c3d9e8"/>
<rect x="2944.0" y="66.5" width="20.0" height="5.0" fill="#c3d9e8"/>
<rect x="400.0" y="2144.0" width="18.0" height="5.0" fill="#c3d9e8"/>
<rect x="432.0" y="2144.0" width="21.0" height="5.0" fill="#c3d9e8"/>
<rect x="460.0" y="2144.0" width="21.0" height="5.0" fill="#c3d9e8"/>
<rect x="493.0" y="2144.0" width="20.0" height="5.0" fill="#c3d9e8"/>
<rect x="519.0" y="2144.0" width="19.0" height="5.0" fill="#c3d9e8"/>
<rect x="903.0" y="2144.0" width="18.0" height="5.0" fill="#c3d9e8"/>
<rect x="936.0" y="2144.0" width="16.0" height="5.0" fill="#c3d9e8"/>
<rect x="962.0" y="2144.0" width="18.0" height="5.0" fill="#c3d9e8"/>
<rect x="996.0" y="2144.0" width="18.0" height="5.0" fill="#c3d9e8"/>
<rect x="1530.0" y="2144.0" width="18.0" height="5.0" fill="#c3d9e8"/>
<rect x="1564.0" y="2144.0" width="21.0" height="5.0" fill="#c3d9e8"/>
<rect x="1590.0" y="2144.0" width="22.0" height="5.0" fill="#c3d9e8"/>
<rect x="1622.0" y="2144.0" width="18.0" height="5.0" fill="#c3d9e8"/>
<rect x="2222.0" y="2144.0" width="20.0" height="5.0" fill="#c3d9e8"/>
<rect x="2253.0" y="2144.0" width="22.0" height="5.0" fill="#c3d9e8"/>
<rect x="2283.0" y="2144.0" width="22.0" height="5.0" fill="#c3d9e8"/>
<rect x="2316.0" y="2144.0" width="20.0" height="5.0" fill="#c3d9e8"/>
<rect x="2848.0" y="2144.0" width="23.0" height="5.0" fill="#c3d9e8"/>
<rect x="2881.0" y="2144.0" width="22.0" height="5.0" fill="#c3d9e8"/>
<rect x="2910.0" y="2144.0" width="22.0" height="5.0" fill="#c3d9e8"/>
<rect x="2943.0" y="2144.0" width="20.0" height="5.0" fill="#c3d9e8"/>
<rect x="66.0" y="284.0" width="8.0" height="22.0" fill="#c8d6e4"/>
<rect x="66.0" y="315.0" width="8.0" height="53.0" fill="#c8d6e4"/>
<rect x="66.0" y="382.0" width="8.0" height="18.0" fill="#c8d6e4"/>
<rect x="66.0" y="1040.0" width="8.0" height="22.0" fill="#c8d6e4"/>
<rect x="66.0" y="1075.0" width="8.0" height="30.0" fill="#c8d6e4"/>
<rect x="66.0" y="1108.0" width="8.0" height="27.0" fill="#c8d6e4"/>
<rect x="66.0" y="1137.0" width="8.0" height="20.0" fill="#c8d6e4"/>
<rect x="66.0" y="1793.0" width="8.0" height="35.0" fill="#c8d6e4"/>
<rect x="66.0" y="1840.0" width="8.0" height="28.0" fill="#c8d6e4"/>
<rect x="66.0" y="1906.0" width="8.0" height="19.0" fill="#c8d6e4"/>
<rect x="66.0" y="1930.0" width="8.0" height="20.0" fill="#c8d6e4"/>
<rect x="3116.0" y="288.0" width="8.0" height="20.0" fill="#bccbd8"/>
<rect x="3116.0" y="320.0" width="8.0" height="20.0" fill="#bccbd8"/>
<rect x="3116.0" y="350.0" width="8.0" height="20.0" fill="#bccbd8"/>
<rect x="3116.0" y="385.0" width="8.0" height="17.0" fill="#bccbd8"/>
<rect x="3116.0" y="1040.0" width="8.0" height="22.0" fill="#b5c8d5"/>
<rect x="3116.0" y="1074.0" width="8.0" height="26.0" fill="#b5c8d5"/>
<rect x="3116.0" y="1103.0" width="8.0" height="47.0" fill="#b5c8d5"/>
<rect x="3116.0" y="1154.0" width="8.0" height="39.0" fill="#b5c8d5"/>
<rect x="3116.0" y="1826.0" width="8.0" height="20.0" fill="#bccbd8"/>
<rect x="3116.0" y="1862.0" width="8.0" height="18.0" fill="#bccbd8"/>
<rect x="3116.0" y="1886.0" width="8.0" height="20.0" fill="#bccbd8"/>
<rect x="3116.0" y="1920.0" width="8.0" height="20.0" fill="#bccbd8"/>
<rect x="1654.0" y="691.0" width="6.0" height="9.0" fill="#b9c6d0"/>
<rect x="2236.0" y="691.0" width="7.0" height="9.0" fill="#aebbc6"/>
<rect x="1654.0" y="1071.0" width="8.0" height="9.0" fill="#aebbc6"/>
<rect x="1654.0" y="704.0" width="6.0" height="16.0" fill="#b9c6d0"/>
<rect x="2236.0" y="704.0" width="7.0" height="16.0" fill="#aebbc6"/>
<rect x="1654.0" y="1084.0" width="8.0" height="16.0" fill="#aebbc6"/>
<rect x="1654.0" y="724.0" width="6.0" height="16.0" fill="#b9c6d0"/>
<rect x="2236.0" y="724.0" width="7.0" height="16.0" fill="#aebbc6"/>
<rect x="1654.0" y="1104.0" width="8.0" height="16.0" fill="#aebbc6"/>
<rect x="1654.0" y="743.0" width="6.0" height="9.0" fill="#b9c6d0"/>
<rect x="2236.0" y="743.0" width="7.0" height="9.0" fill="#aebbc6"/>
<rect x="1654.0" y="1123.0" width="8.0" height="9.0" fill="#aebbc6"/>
<rect x="1673.0" y="695.0" width="7.0" height="27.0" fill="#d8dfe4"/>
<rect x="2217.0" y="732.0" width="7.0" height="18.0" fill="#c5ced6"/>
<rect x="930.0" y="635.0" width="6.5" height="9.5" fill="#c3ccd6"/>
<rect x="939.0" y="635.0" width="6.5" height="9.5" fill="#c3ccd6"/>
<rect x="948.0" y="635.0" width="6.5" height="9.5" fill="#c3ccd6"/>
<rect x="957.0" y="635.0" width="6.5" height="9.5" fill="#c3ccd6"/>
<rect x="966.0" y="635.0" width="6.5" height="9.5" fill="#c3ccd6"/>
<rect x="975.0" y="635.0" width="6.5" height="9.5" fill="#c3ccd6"/>
<rect x="984.0" y="635.0" width="6.5" height="9.5" fill="#c3ccd6"/>
<rect x="65.0" y="66.0" width="212.0" height="215.0" fill="#e9eef0"/>
<rect x="65.0" y="66.0" width="212.0" height="10.0" fill="#c5d0d8"/>
<rect x="71.4" y="76.3" width="199.3" height="194.8" fill="#b4afb5"/>
<rect x="252.0" y="266.0" width="28.0" height="17.0" fill="#8797ab"/>
<rect x="99.4" y="221.2" width="31.3" height="19.1" fill="#535763"/>
<rect x="110.7" y="113.4" width="10.0" height="7.0" fill="#9fb0d6"/>
<rect x="177.6" y="113.4" width="10.0" height="7.0" fill="#9fb0d6"/>
<rect x="243.8" y="113.4" width="10.0" height="7.0" fill="#9fb0d6"/>
<rect x="110.7" y="175.9" width="10.0" height="7.0" fill="#9fb0d6"/>
<rect x="177.6" y="175.9" width="10.0" height="7.0" fill="#9fb0d6"/>
<rect x="243.8" y="175.9" width="10.0" height="7.0" fill="#9fb0d6"/>
<rect x="413.1" y="60.9" width="109.6" height="200.9" fill="#e9eef0"/>
<rect x="418.8" y="67.0" width="98.7" height="188.7" fill="#535763"/>
<rect x="447.2" y="130.3" width="13.0" height="13.0" fill="#c3cbdc"/>
<rect x="492.7" y="130.3" width="13.0" height="13.0" fill="#c3cbdc"/>
<rect x="447.2" y="211.8" width="13.0" height="13.0" fill="#c3cbdc"/>
<rect x="492.7" y="211.8" width="13.0" height="13.0" fill="#c3cbdc"/>
<rect x="435.8" y="153.7" width="5.0" height="5.0" fill="#8e97a5"/>
<rect x="502.8" y="153.7" width="5.0" height="5.0" fill="#8e97a5"/>
<rect x="435.8" y="193.5" width="5.0" height="5.0" fill="#8e97a5"/>
<rect x="502.8" y="193.5" width="5.0" height="5.0" fill="#8e97a5"/>
<rect x="435.8" y="233.7" width="5.0" height="5.0" fill="#8e97a5"/>
<rect x="502.8" y="233.7" width="5.0" height="5.0" fill="#8e97a5"/>
<rect x="529.7" y="67.0" width="169.1" height="193.5" fill="#a9bccb"/>
<rect x="533.7" y="71.0" width="161.1" height="185.5" fill="#535763"/>
<rect x="543.8" y="86.0" width="44.7" height="7.3" fill="#6f7784"/>
<rect x="543.8" y="117.7" width="44.7" height="6.1" fill="#6f7784"/>
<rect x="615.7" y="92.9" width="8.0" height="13.0" fill="#c3cbdc"/>
<rect x="650.2" y="92.9" width="8.0" height="13.0" fill="#c3cbdc"/>
<rect x="615.7" y="160.7" width="8.0" height="13.0" fill="#c3cbdc"/>
<rect x="650.2" y="160.7" width="8.0" height="13.0" fill="#c3cbdc"/>
<rect x="595.1" y="131.4" width="7.0" height="5.0" fill="#a0a8b5"/>
<rect x="669.4" y="161.9" width="7.0" height="5.0" fill="#a0a8b5"/>
<rect x="710.2" y="69.8" width="162.4" height="189.9" fill="#b4afb5"/>
<rect x="814.9" y="87.3" width="47.5" height="34.5" fill="#c9c6ca"/>
<rect x="818.6" y="94.2" width="41.0" height="26.3" fill="#535763"/>
<rect x="732.9" y="154.2" width="22.0" height="13.0" fill="#8e9aa8"/>
<rect x="734.4" y="155.7" width="19.0" height="10.0" fill="#343c46"/>
<rect x="783.2" y="154.2" width="22.0" height="13.0" fill="#8e9aa8"/>
<rect x="784.7" y="155.7" width="19.0" height="10.0" fill="#343c46"/>
<rect x="732.9" y="204.9" width="22.0" height="13.0" fill="#8e9aa8"/>
<rect x="734.4" y="206.4" width="19.0" height="10.0" fill="#343c46"/>
<rect x="783.2" y="204.9" width="22.0" height="13.0" fill="#8e9aa8"/>
<rect x="784.7" y="206.4" width="19.0" height="10.0" fill="#343c46"/>
<rect x="852.8" y="144.0" width="7.0" height="14.0" fill="#a9b6d3"/>
<rect x="852.8" y="186.6" width="7.0" height="14.0" fill="#a9b6d3"/>
<rect x="65.0" y="391.0" width="185.0" height="14.0" fill="#b3c4d2"/>
<rect x="247.0" y="404.0" width="7.0" height="208.0" fill="#a5b6c5"/>
<rect x="71.0" y="404.0" width="174.5" height="206.0" fill="#535763"/>
<rect x="85.4" y="457.7" width="24.0" height="14.0" fill="#8e9aa8"/>
<rect x="86.9" y="459.2" width="21.0" height="11.0" fill="#3f4a55"/>
<rect x="130.9" y="457.7" width="24.0" height="14.0" fill="#8e9aa8"/>
<rect x="132.4" y="459.2" width="21.0" height="11.0" fill="#3f4a55"/>
<rect x="85.4" y="500.3" width="24.0" height="14.0" fill="#8e9aa8"/>
<rect x="86.9" y="501.8" width="21.0" height="11.0" fill="#3f4a55"/>
<rect x="130.9" y="500.3" width="24.0" height="14.0" fill="#8e9aa8"/>
<rect x="132.4" y="501.8" width="21.0" height="11.0" fill="#3f4a55"/>
<rect x="85.4" y="542.9" width="24.0" height="14.0" fill="#8e9aa8"/>
<rect x="86.9" y="544.4" width="21.0" height="11.0" fill="#3f4a55"/>
<rect x="130.9" y="542.9" width="24.0" height="14.0" fill="#8e9aa8"/>
<rect x="132.4" y="544.4" width="21.0" height="11.0" fill="#3f4a55"/>
<rect x="151.7" y="486.5" width="5.0" height="5.0" fill="#8e97a5"/>
<rect x="151.7" y="565.7" width="5.0" height="5.0" fill="#8e97a5"/>
<rect x="589.3" y="428.2" width="276.0" height="329.9" fill="#a9bccb"/>
<rect x="446.4" y="537.7" width="418.9" height="220.4" fill="#a9bccb"/>
<rect x="592.5" y="432.6" width="267.9" height="135.6" fill="#535763"/>
<rect x="451.7" y="543.0" width="408.7" height="211.9" fill="#535763"/>
<polygon points="515.4,429.4 589.3,429.4 589.3,540.6 444.8,540.6 444.8,487.0" fill="#c4cfd6"/>
<polygon points="517.5,432.6 586.0,432.6 586.0,536.5 448.9,536.5 448.9,489.0" fill="#b4afb5"/>
<polyline points="860.4,472.0 626.2,472.0 626.2,568.2 501.2,568.2 501.2,754.9" fill="none" stroke="#9fb0bf" stroke-width="4"/>
<rect x="680.9" y="439.4" width="10.0" height="14.0" fill="#c3cbdc"/>
<rect x="718.6" y="439.4" width="10.0" height="14.0" fill="#c3cbdc"/>
<rect x="658.5" y="448.5" width="6.0" height="4.0" fill="#c3cbdc"/>
<rect x="770.4" y="448.5" width="8.0" height="4.0" fill="#c3cbdc"/>
<rect x="832.0" y="448.5" width="8.0" height="4.0" fill="#c3cbdc"/>
<rect x="766.9" y="515.5" width="14.0" height="8.0" fill="#c3cbdc"/>
<rect x="825.4" y="515.5" width="5.0" height="8.0" fill="#c3cbdc"/>
<rect x="665.6" y="509.9" width="8.0" height="3.0" fill="#c3cbdc"/>
<rect x="606.3" y="490.1" width="5.0" height="6.0" fill="#c3cbdc"/>
<rect x="463.8" y="646.4" width="14.0" height="10.0" fill="#c3cbdc"/>
<rect x="463.8" y="674.8" width="14.0" height="10.0" fill="#c3cbdc"/>
<rect x="659.1" y="611.9" width="9.0" height="14.0" fill="#c3cbdc"/>
<rect x="594.1" y="660.6" width="9.0" height="14.0" fill="#c3cbdc"/>
<rect x="542.9" y="702.2" width="18.0" height="8.0" fill="#c3cbdc"/>
<rect x="764.1" y="633.2" width="18.0" height="8.0" fill="#c3cbdc"/>
<rect x="469.8" y="612.4" width="6.0" height="5.0" fill="#c3cbdc"/>
<rect x="469.8" y="724.0" width="6.0" height="5.0" fill="#c3cbdc"/>
<rect x="724.5" y="580.4" width="4.0" height="4.0" fill="#c3cbdc"/>
<rect x="663.6" y="694.0" width="4.0" height="4.0" fill="#c3cbdc"/>
<polyline points="789.4,740.7 789.4,712.3 846.2,712.3 846.2,740.7" fill="none" stroke="#7f8896" stroke-width="3"/>
<rect x="1072.1" y="66.0" width="197.5" height="195.5" fill="#a9bccb"/>
<rect x="1077.1" y="71.0" width="187.5" height="185.5" fill="#535763"/>
<polyline points="1140.0,87.3 1087.3,87.3 1087.3,121.8 1140.0,121.8" fill="none" stroke="#7f8896" stroke-width="4"/>
<rect x="1173.9" y="94.1" width="7.0" height="13.0" fill="#b7bfce"/>
<rect x="1217.7" y="94.1" width="7.0" height="13.0" fill="#b7bfce"/>
<rect x="1173.9" y="160.7" width="7.0" height="13.0" fill="#b7bfce"/>
<rect x="1217.7" y="160.7" width="7.0" height="13.0" fill="#b7bfce"/>
<rect x="1148.7" y="131.4" width="7.0" height="5.0" fill="#a0a8b5"/>
<rect x="1238.0" y="161.9" width="7.0" height="5.0" fill="#a0a8b5"/>
<rect x="1303.4" y="66.0" width="200.8" height="198.7" fill="#a9bccb"/>
<rect x="1308.4" y="71.0" width="190.8" height="188.7" fill="#535763"/>
<polyline points="1373.4,87.3 1320.6,87.3 1320.6,121.8" fill="none" stroke="#7f8896" stroke-width="4"/>
<rect x="1407.6" y="94.1" width="7.0" height="13.0" fill="#b7bfce"/>
<rect x="1450.2" y="94.1" width="7.0" height="13.0" fill="#b7bfce"/>
<rect x="1704.1" y="69.8" width="205.0" height="189.9" fill="#b4afb5"/>
<rect x="1839.3" y="86.0" width="58.4" height="35.8" fill="#c9c6ca"/>
<rect x="1842.1" y="94.2" width="52.8" height="26.3" fill="#535763"/>
<rect x="1953.7" y="69.8" width="210.7" height="189.9" fill="#b4afb5"/>
<rect x="1969.8" y="96.2" width="23.0" height="13.0" fill="#8e9aa8"/>
<rect x="1971.3" y="97.7" width="20.0" height="10.0" fill="#4b5866"/>
<rect x="1969.8" y="151.0" width="23.0" height="13.0" fill="#8e9aa8"/>
<rect x="1971.3" y="152.5" width="20.0" height="10.0" fill="#4b5866"/>
<rect x="2027.9" y="96.2" width="23.0" height="13.0" fill="#8e9aa8"/>
<rect x="2029.4" y="97.7" width="20.0" height="10.0" fill="#4b5866"/>
<rect x="2027.9" y="151.0" width="23.0" height="13.0" fill="#8e9aa8"/>
<rect x="2029.4" y="152.5" width="20.0" height="10.0" fill="#4b5866"/>
<rect x="2067.9" y="183.7" width="25.0" height="14.0" fill="#8e9aa8"/>
<rect x="2069.4" y="185.2" width="22.0" height="11.0" fill="#2c333c"/>
<rect x="2067.9" y="238.9" width="25.0" height="14.0" fill="#8e9aa8"/>
<rect x="2069.4" y="240.4" width="22.0" height="11.0" fill="#2c333c"/>
<rect x="2109.6" y="113.6" width="36.5" height="52.8" fill="#a9a5ab"/>
<rect x="2112.8" y="116.9" width="30.1" height="45.4" fill="#535763"/>
<rect x="2007.2" y="202.7" width="14.0" height="7.0" fill="#a9b6d3"/>
<rect x="2007.2" y="231.9" width="14.0" height="7.0" fill="#a9b6d3"/>
<rect x="1198.9" y="403.8" width="103.5" height="257.9" fill="#a9bccb"/>
<rect x="1202.9" y="411.8" width="95.5" height="245.9" fill="#b4afb5"/>
<rect x="1309.3" y="403.8" width="103.8" height="257.9" fill="#a9bccb"/>
<rect x="1313.3" y="411.8" width="95.8" height="245.9" fill="#b4afb5"/>
<rect x="1420.0" y="403.8" width="104.4" height="257.9" fill="#a9bccb"/>
<rect x="1424.0" y="411.8" width="96.4" height="245.9" fill="#b4afb5"/>
<rect x="1241.1" y="603.2" width="43.4" height="34.1" fill="#c2bfc4"/>
<rect x="1243.5" y="606.1" width="38.6" height="28.4" fill="#535763"/>
<rect x="1351.9" y="603.2" width="43.4" height="34.1" fill="#c2bfc4"/>
<rect x="1354.3" y="606.1" width="38.6" height="28.4" fill="#535763"/>
<rect x="1464.3" y="603.2" width="42.6" height="34.1" fill="#c2bfc4"/>
<rect x="1466.7" y="606.1" width="37.8" height="28.4" fill="#535763"/>
<rect x="1665.9" y="398.7" width="98.1" height="60.1" fill="#535763"/>
<rect x="1715.5" y="407.6" width="8.0" height="5.0" fill="#c3cbdc"/>
<rect x="1679.8" y="445.4" width="6.0" height="6.0" fill="#9aa3b0"/>
<rect x="1665.9" y="502.6" width="98.1" height="61.7" fill="#535763"/>
<rect x="1715.5" y="511.5" width="8.0" height="5.0" fill="#c3cbdc"/>
<rect x="1679.8" y="550.9" width="6.0" height="6.0" fill="#9aa3b0"/>
<rect x="1665.9" y="602.6" width="98.1" height="64.0" fill="#535763"/>
<rect x="1715.5" y="611.5" width="8.0" height="5.0" fill="#c3cbdc"/>
<rect x="1679.8" y="653.2" width="6.0" height="6.0" fill="#9aa3b0"/>
<rect x="1665.6" y="774.5" width="99.4" height="250.8" fill="#535763"/>
<rect x="1715.3" y="782.9" width="6.0" height="6.0" fill="#9aa3b0"/>
<rect x="1678.8" y="821.4" width="6.0" height="6.0" fill="#9aa3b0"/>
<rect x="1678.8" y="1011.8" width="6.0" height="6.0" fill="#9aa3b0"/>
<rect x="2332.9" y="68.2" width="206.8" height="191.5" fill="#a9bccb"/>
<rect x="2336.9" y="72.2" width="198.8" height="183.5" fill="#535763"/>
<rect x="2349.0" y="86.0" width="56.0" height="7.3" fill="#6f7784"/>
<rect x="2349.0" y="117.7" width="56.0" height="6.1" fill="#6f7784"/>
<rect x="2439.9" y="92.9" width="9.0" height="13.0" fill="#c3cbdc"/>
<rect x="2484.5" y="92.9" width="9.0" height="13.0" fill="#c3cbdc"/>
<rect x="2439.9" y="160.7" width="9.0" height="13.0" fill="#c3cbdc"/>
<rect x="2484.5" y="160.7" width="9.0" height="13.0" fill="#c3cbdc"/>
<rect x="2413.7" y="131.4" width="7.0" height="5.0" fill="#a0a8b5"/>
<rect x="2507.1" y="161.9" width="7.0" height="5.0" fill="#a0a8b5"/>
<rect x="2616.1" y="71.0" width="207.0" height="188.7" fill="#b4afb5"/>
<rect x="2750.0" y="86.0" width="59.7" height="35.8" fill="#c9c6ca"/>
<rect x="2752.8" y="94.2" width="54.0" height="26.3" fill="#535763"/>
<rect x="2646.7" y="154.2" width="24.0" height="13.0" fill="#8e9aa8"/>
<rect x="2648.2" y="155.7" width="21.0" height="10.0" fill="#343c46"/>
<rect x="2710.4" y="154.2" width="24.0" height="13.0" fill="#8e9aa8"/>
<rect x="2711.9" y="155.7" width="21.0" height="10.0" fill="#343c46"/>
<rect x="2646.7" y="204.9" width="24.0" height="13.0" fill="#8e9aa8"/>
<rect x="2648.2" y="206.4" width="21.0" height="10.0" fill="#343c46"/>
<rect x="2710.4" y="204.9" width="24.0" height="13.0" fill="#8e9aa8"/>
<rect x="2711.9" y="206.4" width="21.0" height="10.0" fill="#343c46"/>
<rect x="2795.2" y="142.4" width="7.0" height="14.0" fill="#a9b6d3"/>
<rect x="2795.2" y="184.6" width="7.0" height="14.0" fill="#a9b6d3"/>
<polygon points="2334.8,433.4 2345.8,433.4 2345.8,652.8 2375.4,683.2 2494.3,683.2 2494.3,696.6 2371.3,696.6 2334.8,656.8" fill="#eef3f4"/>
<polygon points="2345.0,436.3 2491.1,436.3 2491.1,684.4 2372.6,684.4 2345.0,654.8" fill="#535763"/>
<rect x="2370.1" y="519.7" width="5.0" height="6.0" fill="#8e97a5"/>
<rect x="2370.1" y="605.9" width="5.0" height="6.0" fill="#8e97a5"/>
<rect x="2512.2" y="410.7" width="101.4" height="253.4" fill="#a9bccb"/>
<rect x="2516.2" y="418.7" width="93.4" height="241.4" fill="#b4afb5"/>
<rect x="2623.0" y="410.7" width="103.5" height="253.4" fill="#a9bccb"/>
<rect x="2627.0" y="418.7" width="95.5" height="241.4" fill="#b4afb5"/>
<rect x="2734.6" y="410.7" width="102.3" height="253.4" fill="#a9bccb"/>
<rect x="2738.6" y="418.7" width="94.3" height="241.4" fill="#b4afb5"/>
<rect x="2554.4" y="607.3" width="44.6" height="32.5" fill="#c2bfc4"/>
<rect x="2556.8" y="610.1" width="39.8" height="27.2" fill="#535763"/>
<rect x="2665.2" y="607.3" width="44.2" height="32.5" fill="#c2bfc4"/>
<rect x="2667.6" y="610.1" width="39.4" height="27.2" fill="#535763"/>
<rect x="2776.8" y="607.3" width="44.6" height="32.5" fill="#c2bfc4"/>
<rect x="2779.2" y="610.1" width="39.8" height="27.2" fill="#535763"/>
<polygon points="2969.6,69.5 2980.5,69.5 2980.5,241.5 3006.8,267.8 3109.8,267.8 3109.8,278.7 3001.9,278.7 2969.6,246.4" fill="#eef3f4"/>
<polygon points="2979.7,70.7 3109.0,70.7 3109.0,268.6 3006.0,268.6 2979.7,242.3" fill="#535763"/>
<polyline points="3054.4,122.4 3088.8,122.4 3088.8,105.8" fill="none" stroke="#8a93a0" stroke-width="4"/>
<rect x="3002.7" y="137.1" width="5.0" height="6.0" fill="#a0a8b5"/>
<rect x="3002.7" y="207.0" width="5.0" height="6.0" fill="#a0a8b5"/>
<rect x="2970.0" y="415.0" width="157.0" height="204.0" fill="#9fb1c4"/>
<rect x="2973.0" y="418.0" width="152.0" height="198.0" fill="#b4afb5"/>
<rect x="2970.0" y="623.0" width="157.0" height="202.0" fill="#9fb1c4"/>
<rect x="2973.0" y="626.0" width="152.0" height="196.0" fill="#b4afb5"/>
<rect x="2970.0" y="830.0" width="157.0" height="203.0" fill="#9fb1c4"/>
<rect x="2973.0" y="833.0" width="152.0" height="197.0" fill="#b4afb5"/>
<rect x="2970.0" y="1190.0" width="157.0" height="204.0" fill="#9fb1c4"/>
<rect x="2973.0" y="1193.0" width="152.0" height="198.0" fill="#b4afb5"/>
<rect x="2970.0" y="1400.0" width="157.0" height="203.0" fill="#9fb1c4"/>
<rect x="2973.0" y="1403.0" width="152.0" height="197.0" fill="#b4afb5"/>
<rect x="2970.0" y="1609.0" width="157.0" height="203.0" fill="#9fb1c4"/>
<rect x="2973.0" y="1612.0" width="152.0" height="197.0" fill="#b4afb5"/>
<rect x="3049.0" y="431.0" width="10.0" height="20.0" fill="#3a434e"/>
<rect x="3049.0" y="485.0" width="10.0" height="20.0" fill="#3a434e"/>
<rect x="3095.0" y="431.0" width="10.0" height="20.0" fill="#3a434e"/>
<rect x="3095.0" y="485.0" width="10.0" height="20.0" fill="#3a434e"/>
<rect x="2981.0" y="525.0" width="10.0" height="18.0" fill="#2f3740"/>
<rect x="3024.0" y="525.0" width="10.0" height="18.0" fill="#2f3740"/>
<rect x="2990.0" y="468.0" width="7.0" height="10.0" fill="#a9b6d3"/>
<rect x="3012.0" y="468.0" width="7.0" height="10.0" fill="#a9b6d3"/>
<rect x="3045.0" y="558.0" width="47.0" height="39.0" fill="#d5d5d8"/>
<rect x="3052.0" y="564.0" width="38.0" height="28.0" fill="#535763"/>
<rect x="3049.0" y="641.0" width="10.0" height="20.0" fill="#3a434e"/>
<rect x="3049.0" y="695.0" width="10.0" height="20.0" fill="#3a434e"/>
<rect x="3095.0" y="641.0" width="10.0" height="20.0" fill="#3a434e"/>
<rect x="3095.0" y="695.0" width="10.0" height="20.0" fill="#3a434e"/>
<rect x="2981.0" y="735.0" width="10.0" height="18.0" fill="#2f3740"/>
<rect x="3024.0" y="735.0" width="10.0" height="18.0" fill="#2f3740"/>
<rect x="2990.0" y="678.0" width="7.0" height="10.0" fill="#a9b6d3"/>
<rect x="3012.0" y="678.0" width="7.0" height="10.0" fill="#a9b6d3"/>
<rect x="3045.0" y="768.0" width="47.0" height="39.0" fill="#d5d5d8"/>
<rect x="3052.0" y="774.0" width="38.0" height="28.0" fill="#535763"/>
<rect x="3049.0" y="1208.0" width="10.0" height="20.0" fill="#3a434e"/>
<rect x="3049.0" y="1262.0" width="10.0" height="20.0" fill="#3a434e"/>
<rect x="3095.0" y="1208.0" width="10.0" height="20.0" fill="#3a434e"/>
<rect x="3095.0" y="1262.0" width="10.0" height="20.0" fill="#3a434e"/>
<rect x="2981.0" y="1302.0" width="10.0" height="18.0" fill="#2f3740"/>
<rect x="3024.0" y="1302.0" width="10.0" height="18.0" fill="#2f3740"/>
<rect x="2990.0" y="1245.0" width="7.0" height="10.0" fill="#a9b6d3"/>
<rect x="3012.0" y="1245.0" width="7.0" height="10.0" fill="#a9b6d3"/>
<rect x="3045.0" y="1335.0" width="47.0" height="39.0" fill="#d5d5d8"/>
<rect x="3052.0" y="1341.0" width="38.0" height="28.0" fill="#535763"/>
<rect x="3049.0" y="1418.0" width="10.0" height="20.0" fill="#3a434e"/>
<rect x="3049.0" y="1472.0" width="10.0" height="20.0" fill="#3a434e"/>
<rect x="3095.0" y="1418.0" width="10.0" height="20.0" fill="#3a434e"/>
<rect x="3095.0" y="1472.0" width="10.0" height="20.0" fill="#3a434e"/>
<rect x="2981.0" y="1512.0" width="10.0" height="18.0" fill="#2f3740"/>
<rect x="3024.0" y="1512.0" width="10.0" height="18.0" fill="#2f3740"/>
<rect x="2990.0" y="1455.0" width="7.0" height="10.0" fill="#a9b6d3"/>
<rect x="3012.0" y="1455.0" width="7.0" height="10.0" fill="#a9b6d3"/>
<rect x="3045.0" y="1545.0" width="47.0" height="39.0" fill="#d5d5d8"/>
<rect x="3052.0" y="1551.0" width="38.0" height="28.0" fill="#535763"/>
<rect x="3049.0" y="1627.0" width="10.0" height="20.0" fill="#3a434e"/>
<rect x="3049.0" y="1681.0" width="10.0" height="20.0" fill="#3a434e"/>
<rect x="3095.0" y="1627.0" width="10.0" height="20.0" fill="#3a434e"/>
<rect x="3095.0" y="1681.0" width="10.0" height="20.0" fill="#3a434e"/>
<rect x="2981.0" y="1721.0" width="10.0" height="18.0" fill="#2f3740"/>
<rect x="3024.0" y="1721.0" width="10.0" height="18.0" fill="#2f3740"/>
<rect x="2990.0" y="1664.0" width="7.0" height="10.0" fill="#a9b6d3"/>
<rect x="3012.0" y="1664.0" width="7.0" height="10.0" fill="#a9b6d3"/>
<rect x="3045.0" y="1754.0" width="47.0" height="39.0" fill="#d5d5d8"/>
<rect x="3052.0" y="1760.0" width="38.0" height="28.0" fill="#535763"/>
<rect x="3045.0" y="978.0" width="47.0" height="36.0" fill="#d5d5d8"/>
<rect x="3052.0" y="984.0" width="38.0" height="26.0" fill="#535763"/>
<rect x="73.1" y="632.5" width="192.7" height="189.9" fill="#a9bccb"/>
<rect x="77.1" y="639.4" width="179.4" height="177.7" fill="#535763"/>
<rect x="97.5" y="679.0" width="12.0" height="6.0" fill="#c3cbdc"/>
<rect x="164.5" y="679.0" width="12.0" height="6.0" fill="#c3cbdc"/>
<rect x="97.5" y="717.5" width="12.0" height="6.0" fill="#c3cbdc"/>
<rect x="164.5" y="717.5" width="12.0" height="6.0" fill="#c3cbdc"/>
<rect x="165.9" y="658.7" width="5.0" height="6.0" fill="#a0a8b5"/>
<rect x="135.5" y="741.9" width="5.0" height="6.0" fill="#a0a8b5"/>
<rect x="73.1" y="834.6" width="192.7" height="190.7" fill="#a9bccb"/>
<rect x="77.1" y="841.5" width="179.4" height="178.5" fill="#535763"/>
<rect x="97.5" y="881.1" width="12.0" height="6.0" fill="#c3cbdc"/>
<rect x="164.5" y="881.1" width="12.0" height="6.0" fill="#c3cbdc"/>
<rect x="97.5" y="919.6" width="12.0" height="6.0" fill="#c3cbdc"/>
<rect x="164.5" y="919.6" width="12.0" height="6.0" fill="#c3cbdc"/>
<rect x="165.9" y="860.8" width="5.0" height="6.0" fill="#a0a8b5"/>
<rect x="135.5" y="944.0" width="5.0" height="6.0" fill="#a0a8b5"/>
<polyline points="93.3,754.2 93.3,807.0" fill="none" stroke="#8a93a0" stroke-width="3"/>
<polyline points="93.3,1009.9 93.3,959.2 125.8,959.2" fill="none" stroke="#9aa3ae" stroke-width="4"/>
<rect x="514.6" y="839.4" width="252.4" height="188.8" fill="#e9eef0"/>
<rect x="514.6" y="839.4" width="252.4" height="6.1" fill="#c5d0d8"/>
<rect x="519.5" y="845.5" width="240.6" height="174.5" fill="#b4afb5"/>
<rect x="514.6" y="1022.1" width="41.4" height="8.1" fill="#8797ab"/>
<rect x="554.0" y="976.6" width="40.6" height="13.8" fill="#535763"/>
<rect x="567.8" y="877.7" width="13.0" height="7.0" fill="#9fb0d6"/>
<rect x="648.1" y="877.7" width="13.0" height="7.0" fill="#9fb0d6"/>
<rect x="728.9" y="877.7" width="13.0" height="7.0" fill="#9fb0d6"/>
<rect x="567.8" y="935.4" width="13.0" height="7.0" fill="#9fb0d6"/>
<rect x="648.1" y="935.4" width="13.0" height="7.0" fill="#9fb0d6"/>
<rect x="728.9" y="935.4" width="13.0" height="7.0" fill="#9fb0d6"/>
<rect x="1042.6" y="680.0" width="124.6" height="122.9" fill="#d9e1e5"/>
<polygon points="1050.7,686.0 1161.5,686.0 1164.4,794.8 1050.7,794.8" fill="#535763"/>
<polyline points="1107.5,718.5 1144.9,718.5 1144.9,699.4" fill="none" stroke="#8a93a0" stroke-width="3"/>
<rect x="1083.6" y="735.5" width="13.0" height="13.0" fill="#c3cbdc"/>
<rect x="1127.4" y="735.5" width="13.0" height="13.0" fill="#c3cbdc"/>
<rect x="1069.1" y="780.1" width="8.0" height="5.0" fill="#c3cbdc"/>
<rect x="1110.9" y="780.1" width="8.0" height="5.0" fill="#c3cbdc"/>
<polygon points="1041.8,811.0 1051.5,811.0 1051.5,984.7 1075.9,1009.1 1178.6,1009.1 1178.6,1020.0 1073.1,1020.0 1041.8,987.6" fill="#eef3f4"/>
<polygon points="1050.7,815.1 1177.4,815.1 1177.4,1009.9 1075.1,1009.9 1050.7,985.6" fill="#535763"/>
<rect x="1177.4" y="815.1" width="4.0" height="194.8" fill="#7f8fa3"/>
<polyline points="1123.8,844.7 1158.3,844.7 1158.3,867.9" fill="none" stroke="#8a93a0" stroke-width="4"/>
<rect x="1071.4" y="878.2" width="5.0" height="6.0" fill="#a0a8b5"/>
<rect x="1071.4" y="948.1" width="5.0" height="6.0" fill="#a0a8b5"/>
<rect x="1189.9" y="809.0" width="313.3" height="205.8" fill="#535763"/>
<rect x="1293.3" y="855.7" width="14.0" height="8.0" fill="#b7c2d6"/>
<rect x="1293.3" y="908.5" width="14.0" height="8.0" fill="#b7c2d6"/>
<polygon points="1793.4,771.3 1806.4,771.3 1806.4,985.6 1843.3,1022.1 1988.2,1022.1 1988.2,1033.0 1838.1,1033.0 1793.4,989.6" fill="#eef3f4"/>
<polygon points="1805.6,774.5 1988.2,774.5 1988.2,1022.9 1842.1,1022.9 1805.6,986.4" fill="#535763"/>
<polyline points="1957.8,815.1 1911.1,815.1 1911.1,841.5" fill="none" stroke="#8a93a0" stroke-width="4"/>
<polygon points="2058.8,768.4 2179.4,768.4 2219.2,807.8 2219.2,1026.1 2209.0,1026.1 2209.0,811.9 2175.3,779.4 2058.8,779.4" fill="#eef3f4"/>
<polygon points="2058.8,779.4 2175.3,779.4 2209.0,811.9 2209.0,1026.1 2058.8,1026.1" fill="#535763"/>
<rect x="2336.0" y="768.4" width="167.2" height="261.8" fill="#dfe7ea"/>
<rect x="2344.2" y="776.5" width="150.9" height="245.6" fill="#535763"/>
<rect x="2373.1" y="991.7" width="7.0" height="8.0" fill="#c3cbdc"/>
<rect x="2472.1" y="991.7" width="7.0" height="8.0" fill="#c3cbdc"/>
<rect x="2442.4" y="1031.0" width="12.1" height="4.1" fill="#3c434d"/>
<rect x="2480.9" y="1031.0" width="12.2" height="4.1" fill="#3c434d"/>
<rect x="2576.3" y="714.4" width="267.9" height="100.7" fill="#a9bccb"/>
<rect x="2581.2" y="719.7" width="258.1" height="91.3" fill="#b4afb5"/>
<rect x="2602.3" y="758.3" width="35.3" height="38.9" fill="#c2bfc4"/>
<rect x="2604.7" y="761.1" width="30.4" height="33.7" fill="#535763"/>
<rect x="2576.3" y="822.0" width="267.9" height="100.6" fill="#a9bccb"/>
<rect x="2581.2" y="827.3" width="258.1" height="91.3" fill="#b4afb5"/>
<rect x="2602.3" y="865.8" width="35.3" height="39.0" fill="#c2bfc4"/>
<rect x="2604.7" y="868.7" width="30.4" height="33.7" fill="#535763"/>
<rect x="2576.3" y="925.5" width="267.9" height="102.7" fill="#a9bccb"/>
<rect x="2581.2" y="930.8" width="258.1" height="93.3" fill="#b4afb5"/>
<rect x="2602.3" y="969.3" width="35.3" height="39.0" fill="#c2bfc4"/>
<rect x="2604.7" y="972.2" width="30.4" height="33.6" fill="#535763"/>
<rect x="77.0" y="1186.0" width="303.0" height="163.0" fill="#b4afb5"/>
<rect x="111.0" y="1194.0" width="50.0" height="48.0" fill="#c2bfc4"/>
<rect x="115.0" y="1197.0" width="43.0" height="42.0" fill="#535763"/>
<rect x="210.0" y="1256.0" width="22.0" height="18.0" fill="#98a6ba"/>
<rect x="213.0" y="1258.0" width="16.0" height="14.0" fill="#2f3a44"/>
<rect x="291.0" y="1256.0" width="22.0" height="18.0" fill="#98a6ba"/>
<rect x="294.0" y="1258.0" width="16.0" height="14.0" fill="#2f3a44"/>
<rect x="210.0" y="1307.0" width="22.0" height="18.0" fill="#98a6ba"/>
<rect x="213.0" y="1309.0" width="16.0" height="14.0" fill="#2f3a44"/>
<rect x="291.0" y="1307.0" width="22.0" height="18.0" fill="#98a6ba"/>
<rect x="294.0" y="1309.0" width="16.0" height="14.0" fill="#2f3a44"/>
<rect x="192.0" y="1200.0" width="20.0" height="4.0" fill="#a9b6d3"/>
<rect x="264.0" y="1200.0" width="20.0" height="4.0" fill="#a9b6d3"/>
<rect x="77.0" y="1625.0" width="303.0" height="163.0" fill="#b4afb5"/>
<rect x="111.0" y="1633.0" width="50.0" height="48.0" fill="#c2bfc4"/>
<rect x="115.0" y="1636.0" width="43.0" height="42.0" fill="#535763"/>
<rect x="210.0" y="1695.0" width="22.0" height="18.0" fill="#98a6ba"/>
<rect x="213.0" y="1697.0" width="16.0" height="14.0" fill="#2f3a44"/>
<rect x="291.0" y="1695.0" width="22.0" height="18.0" fill="#98a6ba"/>
<rect x="294.0" y="1697.0" width="16.0" height="14.0" fill="#2f3a44"/>
<rect x="210.0" y="1746.0" width="22.0" height="18.0" fill="#98a6ba"/>
<rect x="213.0" y="1748.0" width="16.0" height="14.0" fill="#2f3a44"/>
<rect x="291.0" y="1746.0" width="22.0" height="18.0" fill="#98a6ba"/>
<rect x="294.0" y="1748.0" width="16.0" height="14.0" fill="#2f3a44"/>
<rect x="192.0" y="1639.0" width="20.0" height="4.0" fill="#a9b6d3"/>
<rect x="264.0" y="1639.0" width="20.0" height="4.0" fill="#a9b6d3"/>
<rect x="71.0" y="1364.4" width="185.5" height="247.5" fill="#535763"/>
<polyline points="99.4,1411.0 150.2,1411.0 150.2,1384.7" fill="none" stroke="#8a93a0" stroke-width="4"/>
<rect x="112.0" y="1471.5" width="9.0" height="9.0" fill="#b7c2d6"/>
<rect x="161.1" y="1471.5" width="9.0" height="9.0" fill="#b7c2d6"/>
<rect x="112.0" y="1521.0" width="9.0" height="9.0" fill="#b7c2d6"/>
<rect x="161.1" y="1521.0" width="9.0" height="9.0" fill="#b7c2d6"/>
<polygon points="649.4,1186.2 869.7,1186.2 869.7,1579.5 539.8,1579.5 539.8,1313.6 649.4,1313.6" fill="#a9bccb"/>
<rect x="543.8" y="1321.8" width="322.7" height="249.5" fill="#535763"/>
<rect x="654.2" y="1188.6" width="212.3" height="173.7" fill="#535763"/>
<polygon points="585.2,1187.0 654.2,1187.0 654.2,1320.5 539.0,1320.5 539.0,1251.9" fill="#c4cfd6"/>
<polygon points="587.3,1190.3 651.0,1190.3 651.0,1316.9 543.0,1316.9 543.0,1254.0" fill="#b4afb5"/>
<polyline points="586.4,1571.3 586.4,1354.2 683.8,1354.2 683.8,1240.6 866.5,1240.6 866.5,1571.3 586.4,1571.3" fill="none" stroke="#b9c9d6" stroke-width="4"/>
<rect x="726.0" y="1201.1" width="9.0" height="14.0" fill="#c3cbdc"/>
<rect x="754.4" y="1201.1" width="9.0" height="14.0" fill="#c3cbdc"/>
<rect x="705.9" y="1210.0" width="7.0" height="6.0" fill="#c3cbdc"/>
<rect x="795.2" y="1210.0" width="7.0" height="6.0" fill="#c3cbdc"/>
<rect x="841.9" y="1210.0" width="7.0" height="6.0" fill="#c3cbdc"/>
<rect x="790.5" y="1288.8" width="14.0" height="9.0" fill="#c3cbdc"/>
<rect x="836.6" y="1290.0" width="7.0" height="5.0" fill="#c3cbdc"/>
<rect x="790.5" y="1423.6" width="14.0" height="9.0" fill="#c3cbdc"/>
<rect x="836.6" y="1425.6" width="7.0" height="5.0" fill="#c3cbdc"/>
<rect x="706.2" y="1399.7" width="8.0" height="17.0" fill="#c3cbdc"/>
<rect x="657.5" y="1456.1" width="8.0" height="17.0" fill="#c3cbdc"/>
<rect x="554.1" y="1443.6" width="12.0" height="8.0" fill="#c3cbdc"/>
<rect x="554.1" y="1475.3" width="12.0" height="11.0" fill="#c3cbdc"/>
<rect x="615.0" y="1506.0" width="16.0" height="9.0" fill="#c3cbdc"/>
<rect x="665.1" y="1309.9" width="9.0" height="10.0" fill="#c3cbdc"/>
<rect x="644.9" y="1334.2" width="9.0" height="10.0" fill="#c3cbdc"/>
<rect x="559.6" y="1400.4" width="9.0" height="5.0" fill="#c3cbdc"/>
<rect x="559.6" y="1531.1" width="9.0" height="5.0" fill="#c3cbdc"/>
<rect x="713.8" y="1282.2" width="5.0" height="6.0" fill="#c3cbdc"/>
<rect x="759.3" y="1360.0" width="5.0" height="8.0" fill="#c3cbdc"/>
<rect x="759.3" y="1543.6" width="5.0" height="6.0" fill="#c3cbdc"/>
<rect x="658.2" y="1543.6" width="5.0" height="6.0" fill="#c3cbdc"/>
<rect x="618.4" y="1460.6" width="5.0" height="8.0" fill="#c3cbdc"/>
<rect x="709.8" y="1496.0" width="5.0" height="7.0" fill="#c3cbdc"/>
<rect x="794.5" y="1470.2" width="6.0" height="5.0" fill="#c3cbdc"/>
<rect x="664.8" y="1258.9" width="8.0" height="4.0" fill="#c3cbdc"/>
<rect x="599.9" y="1335.0" width="8.0" height="6.0" fill="#c3cbdc"/>
<polyline points="852.3,1520.6 852.3,1553.1" fill="none" stroke="#9aa3ae" stroke-width="3"/>
<rect x="543.8" y="1591.6" width="324.7" height="188.4" fill="#535763"/>
<rect x="651.0" y="1634.3" width="13.0" height="8.0" fill="#c3cbdc"/>
<rect x="713.9" y="1634.3" width="13.0" height="8.0" fill="#c3cbdc"/>
<rect x="651.0" y="1686.3" width="13.0" height="8.0" fill="#c3cbdc"/>
<rect x="713.9" y="1686.3" width="13.0" height="8.0" fill="#c3cbdc"/>
<polyline points="803.6,1670.8 803.6,1620.0 842.1,1620.0 842.1,1670.8" fill="none" stroke="#7f8896" stroke-width="4"/>
<rect x="1042.6" y="1183.0" width="188.7" height="127.4" fill="#c9d5dc"/>
<rect x="1042.6" y="1183.0" width="5.7" height="127.4" fill="#dde5e9"/>
<rect x="1050.7" y="1191.0" width="170.5" height="111.3" fill="#535763"/>
<rect x="1131.4" y="1186.0" width="5.0" height="120.3" fill="#e3e9ec"/>
<rect x="1061.3" y="1211.3" width="21.0" height="14.0" fill="#8e9aa8"/>
<rect x="1062.8" y="1212.8" width="18.0" height="11.0" fill="#2c353e"/>
<rect x="1097.9" y="1211.3" width="21.0" height="14.0" fill="#8e9aa8"/>
<rect x="1099.4" y="1212.8" width="18.0" height="11.0" fill="#2c353e"/>
<rect x="1061.3" y="1270.1" width="21.0" height="14.0" fill="#8e9aa8"/>
<rect x="1062.8" y="1271.6" width="18.0" height="11.0" fill="#2c353e"/>
<rect x="1097.9" y="1270.1" width="21.0" height="14.0" fill="#8e9aa8"/>
<rect x="1099.4" y="1271.6" width="18.0" height="11.0" fill="#2c353e"/>
<rect x="1208.0" y="1201.4" width="6.0" height="15.0" fill="#c3cbdc"/>
<rect x="1208.0" y="1267.6" width="6.0" height="15.0" fill="#c3cbdc"/>
<rect x="1207.0" y="1313.6" width="24.3" height="7.3" fill="#c5d6de"/>
<rect x="1316.6" y="1183.0" width="186.6" height="127.4" fill="#c9d5dc"/>
<rect x="1316.6" y="1183.0" width="5.6" height="127.4" fill="#dde5e9"/>
<rect x="1324.7" y="1191.0" width="168.4" height="111.3" fill="#535763"/>
<rect x="1403.3" y="1186.0" width="5.0" height="120.3" fill="#e3e9ec"/>
<rect x="1335.3" y="1211.3" width="21.0" height="14.0" fill="#8e9aa8"/>
<rect x="1336.8" y="1212.8" width="18.0" height="11.0" fill="#2c353e"/>
<rect x="1371.8" y="1211.3" width="21.0" height="14.0" fill="#8e9aa8"/>
<rect x="1373.3" y="1212.8" width="18.0" height="11.0" fill="#2c353e"/>
<rect x="1335.3" y="1270.1" width="21.0" height="14.0" fill="#8e9aa8"/>
<rect x="1336.8" y="1271.6" width="18.0" height="11.0" fill="#2c353e"/>
<rect x="1371.8" y="1270.1" width="21.0" height="14.0" fill="#8e9aa8"/>
<rect x="1373.3" y="1271.6" width="18.0" height="11.0" fill="#2c353e"/>
<rect x="1480.0" y="1201.4" width="6.0" height="15.0" fill="#c3cbdc"/>
<rect x="1480.0" y="1267.6" width="6.0" height="15.0" fill="#c3cbdc"/>
<rect x="1478.9" y="1313.6" width="24.3" height="7.3" fill="#c5d6de"/>
<rect x="1042.7" y="1322.6" width="183.7" height="111.1" fill="#c5d0d8"/>
<rect x="1046.7" y="1326.6" width="175.7" height="103.1" fill="#b4afb5"/>
<rect x="1183.8" y="1338.8" width="26.4" height="50.3" fill="#c2bfc4"/>
<rect x="1186.7" y="1342.0" width="21.1" height="43.9" fill="#535763"/>
<rect x="1316.6" y="1326.7" width="183.3" height="111.9" fill="#c5d0d8"/>
<rect x="1320.6" y="1330.7" width="175.3" height="103.9" fill="#b4afb5"/>
<rect x="1330.8" y="1372.5" width="29.2" height="49.1" fill="#c2bfc4"/>
<rect x="1333.6" y="1375.3" width="23.5" height="43.0" fill="#535763"/>
<rect x="1041.8" y="1529.5" width="185.5" height="246.8" fill="#535763"/>
<rect x="1192.8" y="1562.0" width="19.1" height="6.5" fill="#6f7784"/>
<rect x="1101.8" y="1585.6" width="9.0" height="8.0" fill="#b7c2d6"/>
<rect x="1139.6" y="1585.6" width="9.0" height="8.0" fill="#b7c2d6"/>
<rect x="1101.8" y="1648.5" width="9.0" height="8.0" fill="#b7c2d6"/>
<rect x="1139.6" y="1648.5" width="9.0" height="8.0" fill="#b7c2d6"/>
<rect x="1259.7" y="1516.6" width="254.9" height="274.6" fill="#b5c6d1"/>
<rect x="1265.8" y="1522.6" width="241.5" height="259.3" fill="#535763"/>
<polyline points="1282.1,1547.8 1351.1,1547.8 1351.1,1592.9" fill="none" stroke="#c3cbd2" stroke-width="4"/>
<rect x="1391.2" y="1552.7" width="9.0" height="17.0" fill="#cdd4e2"/>
<rect x="1443.1" y="1553.9" width="9.0" height="17.0" fill="#cdd4e2"/>
<rect x="1391.2" y="1649.3" width="9.0" height="17.0" fill="#cdd4e2"/>
<rect x="1443.1" y="1650.1" width="9.0" height="17.0" fill="#cdd4e2"/>
<rect x="1359.5" y="1606.6" width="9.0" height="9.0" fill="#b7c2d6"/>
<rect x="1472.6" y="1650.7" width="6.0" height="6.0" fill="#b7c2d6"/>
<rect x="1248.4" y="1716.2" width="8.9" height="45.9" fill="#3a4049"/>
<rect x="1698.9" y="1180.0" width="187.9" height="253.4" fill="#b5c6d1"/>
<rect x="1705.4" y="1186.0" width="174.5" height="240.5" fill="#b4afb5"/>
<rect x="1777.2" y="1372.5" width="77.1" height="34.5" fill="#c2bfc4"/>
<rect x="1781.2" y="1376.5" width="69.9" height="27.2" fill="#535763"/>
<rect x="1921.3" y="1180.0" width="272.7" height="253.4" fill="#a9bccb"/>
<rect x="1927.4" y="1186.0" width="261.3" height="238.0" fill="#535763"/>
<rect x="2041.7" y="1294.5" width="10.0" height="14.0" fill="#b7c2d6"/>
<rect x="2041.7" y="1382.9" width="10.0" height="14.0" fill="#b7c2d6"/>
<rect x="2077.2" y="1339.8" width="8.0" height="7.0" fill="#b7c2d6"/>
<rect x="1984.0" y="1294.5" width="10.0" height="14.0" fill="#b7c2d6"/>
<rect x="1984.0" y="1382.9" width="10.0" height="14.0" fill="#b7c2d6"/>
<rect x="1956.1" y="1300.8" width="5.0" height="7.0" fill="#b7c2d6"/>
<polyline points="2097.4,1361.5 2097.4,1402.1 2172.5,1402.1 2172.5,1361.5" fill="none" stroke="#8a93a0" stroke-width="4"/>
<rect x="1704.1" y="1476.0" width="181.5" height="245.5" fill="#b4afb5"/>
<rect x="1741.6" y="1513.7" width="16.0" height="26.0" fill="#98a6ba"/>
<rect x="1744.1" y="1515.7" width="11.0" height="22.0" fill="#2f3a44"/>
<rect x="1790.7" y="1513.7" width="16.0" height="26.0" fill="#98a6ba"/>
<rect x="1793.2" y="1515.7" width="11.0" height="22.0" fill="#2f3a44"/>
<rect x="1741.6" y="1589.6" width="16.0" height="26.0" fill="#98a6ba"/>
<rect x="1744.1" y="1591.6" width="11.0" height="22.0" fill="#2f3a44"/>
<rect x="1790.7" y="1589.6" width="16.0" height="26.0" fill="#98a6ba"/>
<rect x="1793.2" y="1591.6" width="11.0" height="22.0" fill="#2f3a44"/>
<rect x="1834.0" y="1636.3" width="35.3" height="71.0" fill="#c2bfc4"/>
<rect x="1837.3" y="1640.3" width="29.2" height="62.9" fill="#535763"/>
<rect x="1759.7" y="1691.6" width="13.0" height="7.0" fill="#a9b6d3"/>
<rect x="1803.2" y="1691.6" width="13.0" height="7.0" fill="#a9b6d3"/>
<rect x="1708.2" y="1726.8" width="30.4" height="5.7" fill="#606a76"/>
<rect x="1941.6" y="1480.0" width="266.2" height="311.2" fill="#a9bccb"/>
<rect x="2190.7" y="1484.1" width="17.1" height="307.1" fill="#b9cfdb"/>
<rect x="1947.6" y="1486.1" width="243.1" height="290.1" fill="#535763"/>
<rect x="2008.2" y="1518.8" width="16.0" height="32.0" fill="#7d8a98"/>
<rect x="2009.7" y="1522.8" width="13.0" height="22.0" fill="#3c4852"/>
<rect x="2008.2" y="1601.0" width="16.0" height="34.0" fill="#6b7683"/>
<rect x="2009.2" y="1615.0" width="14.0" height="4.0" fill="#aab4c0"/>
<rect x="2009.2" y="1627.0" width="14.0" height="4.0" fill="#aab4c0"/>
<rect x="2059.0" y="1518.8" width="16.0" height="32.0" fill="#7d8a98"/>
<rect x="2060.5" y="1522.8" width="13.0" height="22.0" fill="#3c4852"/>
<rect x="2059.0" y="1601.0" width="16.0" height="34.0" fill="#6b7683"/>
<rect x="2060.0" y="1615.0" width="14.0" height="4.0" fill="#aab4c0"/>
<rect x="2060.0" y="1627.0" width="14.0" height="4.0" fill="#aab4c0"/>
<rect x="2108.9" y="1518.8" width="16.0" height="32.0" fill="#7d8a98"/>
<rect x="2110.4" y="1522.8" width="13.0" height="22.0" fill="#3c4852"/>
<rect x="2108.9" y="1601.0" width="16.0" height="34.0" fill="#6b7683"/>
<rect x="2109.9" y="1615.0" width="14.0" height="4.0" fill="#aab4c0"/>
<rect x="2109.9" y="1627.0" width="14.0" height="4.0" fill="#aab4c0"/>
<rect x="2361.2" y="1204.1" width="133.9" height="259.7" fill="#e4ebee"/>
<rect x="2369.3" y="1211.4" width="118.9" height="244.3" fill="#535763"/>
<rect x="2383.1" y="1252.4" width="13.0" height="17.0" fill="#b7c2d6"/>
<rect x="2437.1" y="1252.4" width="13.0" height="17.0" fill="#b7c2d6"/>
<rect x="2383.1" y="1357.1" width="13.0" height="17.0" fill="#b7c2d6"/>
<rect x="2437.1" y="1357.1" width="13.0" height="17.0" fill="#b7c2d6"/>
<rect x="2380.0" y="1233.8" width="7.0" height="7.0" fill="#c3cbdc"/>
<rect x="2459.2" y="1233.8" width="7.0" height="7.0" fill="#c3cbdc"/>
<rect x="2380.0" y="1285.0" width="7.0" height="7.0" fill="#c3cbdc"/>
<rect x="2459.2" y="1285.0" width="7.0" height="7.0" fill="#c3cbdc"/>
<rect x="2380.0" y="1336.5" width="7.0" height="7.0" fill="#c3cbdc"/>
<rect x="2459.2" y="1336.5" width="7.0" height="7.0" fill="#c3cbdc"/>
<polygon points="2361.2,1528.7 2371.3,1528.7 2371.3,1743.0 2394.5,1776.3 2490.3,1776.3 2490.3,1789.3 2391.6,1789.3 2361.2,1747.9" fill="#eef3f4"/>
<polygon points="2371.3,1532.8 2485.8,1532.8 2485.8,1777.1 2393.7,1777.1 2371.3,1743.8" fill="#535763"/>
<polyline points="2437.5,1601.0 2470.8,1601.0 2470.8,1572.6" fill="none" stroke="#c3cbd2" stroke-width="4"/>
<rect x="2390.5" y="1615.5" width="8.0" height="5.0" fill="#a0a8b5"/>
<rect x="2390.5" y="1702.0" width="8.0" height="5.0" fill="#a0a8b5"/>
<rect x="71.0" y="1954.8" width="318.6" height="195.6" fill="#535763"/>
<rect x="208.6" y="2048.2" width="13.0" height="8.0" fill="#b7c2d6"/>
<rect x="272.3" y="2048.2" width="13.0" height="8.0" fill="#b7c2d6"/>
<rect x="208.6" y="2099.8" width="13.0" height="8.0" fill="#b7c2d6"/>
<rect x="272.3" y="2099.8" width="13.0" height="8.0" fill="#b7c2d6"/>
<rect x="534.9" y="1937.4" width="366.1" height="194.8" fill="#535763"/>
<rect x="694.4" y="2029.4" width="13.0" height="9.0" fill="#b7c2d6"/>
<rect x="766.6" y="2029.4" width="13.0" height="9.0" fill="#b7c2d6"/>
<rect x="694.4" y="2080.2" width="13.0" height="9.0" fill="#b7c2d6"/>
<rect x="766.6" y="2080.2" width="13.0" height="9.0" fill="#b7c2d6"/>
<polyline points="562.1,2103.8 562.1,2051.0 605.5,2051.0 605.5,2103.8" fill="none" stroke="#7f8896" stroke-width="4"/>
<rect x="1040.6" y="1954.8" width="230.5" height="193.6" fill="#b5c6d1"/>
<rect x="1046.7" y="1961.7" width="217.1" height="178.6" fill="#535763"/>
<rect x="1092.6" y="2041.6" width="8.0" height="13.0" fill="#c3cbdc"/>
<rect x="1141.3" y="2041.6" width="8.0" height="13.0" fill="#c3cbdc"/>
<rect x="1092.6" y="2106.6" width="8.0" height="13.0" fill="#c3cbdc"/>
<rect x="1141.3" y="2106.6" width="8.0" height="13.0" fill="#c3cbdc"/>
<rect x="1070.1" y="2045.5" width="6.0" height="7.0" fill="#a0a8b5"/>
<rect x="1172.3" y="2075.9" width="6.0" height="7.0" fill="#a0a8b5"/>
<polyline points="1188.7,2121.2 1250.8,2121.2 1250.8,2093.6" fill="none" stroke="#8a93a0" stroke-width="4"/>
<rect x="1302.4" y="1958.5" width="226.0" height="185.8" fill="#b4afb5"/>
<rect x="1377.8" y="1967.8" width="26.0" height="13.0" fill="#8e9aa8"/>
<rect x="1379.3" y="1969.3" width="23.0" height="10.0" fill="#353f49"/>
<rect x="1377.8" y="2020.5" width="26.0" height="13.0" fill="#8e9aa8"/>
<rect x="1379.3" y="2022.0" width="23.0" height="10.0" fill="#353f49"/>
<rect x="1422.5" y="2051.8" width="26.0" height="13.0" fill="#8e9aa8"/>
<rect x="1424.0" y="2053.3" width="23.0" height="10.0" fill="#353f49"/>
<rect x="1484.2" y="2051.8" width="26.0" height="13.0" fill="#8e9aa8"/>
<rect x="1485.7" y="2053.3" width="23.0" height="10.0" fill="#353f49"/>
<rect x="1422.5" y="2104.6" width="26.0" height="13.0" fill="#8e9aa8"/>
<rect x="1424.0" y="2106.1" width="23.0" height="10.0" fill="#353f49"/>
<rect x="1484.2" y="2104.6" width="26.0" height="13.0" fill="#8e9aa8"/>
<rect x="1485.7" y="2106.1" width="23.0" height="10.0" fill="#353f49"/>
<rect x="1451.3" y="1980.0" width="17.0" height="8.0" fill="#a9b6d3"/>
<rect x="1451.3" y="2006.8" width="17.0" height="8.0" fill="#a9b6d3"/>
<rect x="1321.4" y="2050.2" width="38.6" height="55.6" fill="#c2bfc4"/>
<rect x="1324.7" y="2055.0" width="32.4" height="47.5" fill="#535763"/>
<rect x="1641.2" y="1958.5" width="226.1" height="185.8" fill="#b4afb5"/>
<rect x="1716.7" y="1967.8" width="26.0" height="13.0" fill="#8e9aa8"/>
<rect x="1718.2" y="1969.3" width="23.0" height="10.0" fill="#353f49"/>
<rect x="1716.7" y="2020.5" width="26.0" height="13.0" fill="#8e9aa8"/>
<rect x="1718.2" y="2022.0" width="23.0" height="10.0" fill="#353f49"/>
<rect x="1761.4" y="2051.8" width="26.0" height="13.0" fill="#8e9aa8"/>
<rect x="1762.9" y="2053.3" width="23.0" height="10.0" fill="#353f49"/>
<rect x="1823.0" y="2051.8" width="26.0" height="13.0" fill="#8e9aa8"/>
<rect x="1824.5" y="2053.3" width="23.0" height="10.0" fill="#353f49"/>
<rect x="1761.4" y="2104.6" width="26.0" height="13.0" fill="#8e9aa8"/>
<rect x="1762.9" y="2106.1" width="23.0" height="10.0" fill="#353f49"/>
<rect x="1823.0" y="2104.6" width="26.0" height="13.0" fill="#8e9aa8"/>
<rect x="1824.5" y="2106.1" width="23.0" height="10.0" fill="#353f49"/>
<rect x="1790.2" y="1980.0" width="17.0" height="8.0" fill="#a9b6d3"/>
<rect x="1790.2" y="2006.8" width="17.0" height="8.0" fill="#a9b6d3"/>
<rect x="1660.3" y="2050.2" width="38.6" height="55.6" fill="#c2bfc4"/>
<rect x="1663.6" y="2055.0" width="32.4" height="47.5" fill="#535763"/>
<rect x="1935.5" y="2080.0" width="279.6" height="67.2" fill="#e9eef0"/>
<rect x="1943.6" y="2080.0" width="121.3" height="59.1" fill="#b4afb5"/>
<rect x="2073.9" y="2080.0" width="133.9" height="59.1" fill="#b4afb5"/>
<rect x="2157.5" y="2095.6" width="25.1" height="29.7" fill="#535763"/>
<rect x="2353.1" y="2089.5" width="226.4" height="53.6" fill="#b4afb5"/>
<rect x="2473.2" y="2104.1" width="26.0" height="13.0" fill="#8e9aa8"/>
<rect x="2474.7" y="2105.6" width="23.0" height="10.0" fill="#353f49"/>
<rect x="2534.9" y="2104.1" width="26.0" height="13.0" fill="#8e9aa8"/>
<rect x="2536.4" y="2105.6" width="23.0" height="10.0" fill="#353f49"/>
<rect x="2616.1" y="1959.7" width="220.8" height="180.6" fill="#b4afb5"/>
<rect x="2632.3" y="2088.7" width="58.9" height="30.1" fill="#535763"/>
<rect x="3017.5" y="2091.6" width="112.4" height="62.9" fill="#dfe5e8"/>
<rect x="3023.6" y="2095.6" width="98.2" height="51.6" fill="#b4afb5"/>
<rect x="3074.3" y="2103.8" width="38.5" height="34.4" fill="#535763"/>
<rect x="3044.1" y="2098.8" width="10.0" height="18.0" fill="#9fb0d6"/>
<rect x="2555.5" y="1211.2" width="256.7" height="574.8" fill="#9fb7a0"/>
<clipPath id="pk"><rect x="2555.5" y="1211.2" width="256.7" height="574.8"/></clipPath>
<g clip-path="url(#pk)"><path d="M2633.2,1206.5 C2633.4,1211.2 2631.1,1225.4 2634.6,1234.8 C2638.1,1244.2 2643.2,1256.7 2654.4,1263.1 C2665.6,1269.5 2685.8,1270.7 2701.5,1273.4 C2717.2,1276.2 2735.2,1275.0 2748.6,1279.6 C2761.9,1284.2 2774.4,1292.2 2781.6,1300.8 C2788.8,1309.4 2792.0,1320.8 2792.0,1331.4 C2792.0,1342.0 2788.4,1353.0 2781.6,1364.4 C2774.8,1375.8 2760.4,1388.3 2751.0,1399.7 C2741.6,1411.1 2731.6,1420.9 2725.1,1432.7 C2718.6,1444.5 2714.1,1457.1 2711.9,1470.4 C2709.7,1483.8 2709.7,1498.7 2711.9,1512.8 C2714.1,1526.9 2720.4,1541.8 2725.1,1555.2 C2729.8,1568.6 2737.7,1581.9 2740.2,1592.9 C2742.7,1603.9 2742.7,1612.5 2740.2,1621.1 C2737.7,1629.7 2734.7,1638.0 2725.1,1644.7 C2715.5,1651.4 2696.0,1655.3 2682.7,1661.2 C2669.3,1667.1 2653.2,1671.8 2645.0,1680.0 C2636.8,1688.2 2634.4,1699.3 2633.2,1710.7 C2632.0,1722.1 2635.8,1735.1 2637.9,1748.4 C2640.0,1761.8 2644.6,1783.7 2645.9,1790.8" fill="none" stroke="#c3d3c6" stroke-width="34" stroke-dasharray="9 3" stroke-linejoin="round"/><path d="M2633.2,1206.5 C2633.4,1211.2 2631.1,1225.4 2634.6,1234.8 C2638.1,1244.2 2643.2,1256.7 2654.4,1263.1 C2665.6,1269.5 2685.8,1270.7 2701.5,1273.4 C2717.2,1276.2 2735.2,1275.0 2748.6,1279.6 C2761.9,1284.2 2774.4,1292.2 2781.6,1300.8 C2788.8,1309.4 2792.0,1320.8 2792.0,1331.4 C2792.0,1342.0 2788.4,1353.0 2781.6,1364.4 C2774.8,1375.8 2760.4,1388.3 2751.0,1399.7 C2741.6,1411.1 2731.6,1420.9 2725.1,1432.7 C2718.6,1444.5 2714.1,1457.1 2711.9,1470.4 C2709.7,1483.8 2709.7,1498.7 2711.9,1512.8 C2714.1,1526.9 2720.4,1541.8 2725.1,1555.2 C2729.8,1568.6 2737.7,1581.9 2740.2,1592.9 C2742.7,1603.9 2742.7,1612.5 2740.2,1621.1 C2737.7,1629.7 2734.7,1638.0 2725.1,1644.7 C2715.5,1651.4 2696.0,1655.3 2682.7,1661.2 C2669.3,1667.1 2653.2,1671.8 2645.0,1680.0 C2636.8,1688.2 2634.4,1699.3 2633.2,1710.7 C2632.0,1722.1 2635.8,1735.1 2637.9,1748.4 C2640.0,1761.8 2644.6,1783.7 2645.9,1790.8" fill="none" stroke="#8797ab" stroke-width="29" stroke-linejoin="round"/></g>
<g opacity="0.92"><circle cx="2583.4" cy="1242.8" r="8.3" fill="#7b9f83"/><circle cx="2582.8" cy="1227.2" r="5.5" fill="#86a88b"/><circle cx="2586.2" cy="1235.7" r="6.8" fill="#5e8669"/><circle cx="2574.2" cy="1224.7" r="5.1" fill="#6c9275"/><circle cx="2583.0" cy="1236.5" r="5.8" fill="#547c60"/><circle cx="2578.1" cy="1227.5" r="5.9" fill="#7b9f83"/><circle cx="2582.7" cy="1240.5" r="5.9" fill="#86a88b"/></g>
<g opacity="0.92"><circle cx="2568.7" cy="1281.8" r="6.1" fill="#7b9f83"/><circle cx="2585.8" cy="1262.2" r="7.1" fill="#86a88b"/><circle cx="2584.0" cy="1265.0" r="8.1" fill="#5e8669"/><circle cx="2574.2" cy="1275.4" r="7.1" fill="#6c9275"/><circle cx="2581.5" cy="1268.1" r="7.2" fill="#547c60"/><circle cx="2573.1" cy="1278.6" r="8.2" fill="#7b9f83"/><circle cx="2583.4" cy="1276.1" r="8.1" fill="#86a88b"/></g>
<g opacity="0.92"><circle cx="2579.7" cy="1316.5" r="7.5" fill="#7b9f83"/><circle cx="2571.1" cy="1311.7" r="5.9" fill="#86a88b"/><circle cx="2563.7" cy="1324.6" r="6.4" fill="#5e8669"/><circle cx="2560.7" cy="1327.4" r="7.7" fill="#6c9275"/><circle cx="2572.6" cy="1313.2" r="8.2" fill="#547c60"/><circle cx="2568.3" cy="1309.4" r="4.9" fill="#7b9f83"/><circle cx="2572.1" cy="1320.8" r="5.8" fill="#86a88b"/></g>
<g opacity="0.92"><circle cx="2611.4" cy="1320.0" r="7.3" fill="#7b9f83"/><circle cx="2608.8" cy="1321.0" r="8.1" fill="#86a88b"/><circle cx="2617.4" cy="1308.8" r="5.9" fill="#5e8669"/><circle cx="2611.1" cy="1313.0" r="7.2" fill="#6c9275"/><circle cx="2626.4" cy="1325.5" r="8.2" fill="#547c60"/><circle cx="2628.9" cy="1317.9" r="6.7" fill="#7b9f83"/><circle cx="2617.7" cy="1323.6" r="6.4" fill="#86a88b"/></g>
<g opacity="0.92"><circle cx="2585.6" cy="1375.3" r="7.8" fill="#7b9f83"/><circle cx="2567.5" cy="1374.1" r="7.7" fill="#86a88b"/><circle cx="2575.0" cy="1367.8" r="5.1" fill="#5e8669"/><circle cx="2577.4" cy="1367.4" r="5.2" fill="#6c9275"/><circle cx="2577.3" cy="1377.8" r="5.3" fill="#547c60"/><circle cx="2581.6" cy="1361.7" r="5.5" fill="#7b9f83"/><circle cx="2568.8" cy="1378.2" r="6.9" fill="#86a88b"/></g>
<g opacity="0.92"><circle cx="2611.3" cy="1354.3" r="5.0" fill="#7b9f83"/><circle cx="2627.8" cy="1365.0" r="5.0" fill="#86a88b"/><circle cx="2620.8" cy="1363.6" r="7.8" fill="#5e8669"/><circle cx="2625.1" cy="1374.8" r="6.1" fill="#6c9275"/><circle cx="2611.1" cy="1368.4" r="6.5" fill="#547c60"/><circle cx="2618.1" cy="1354.3" r="4.9" fill="#7b9f83"/><circle cx="2628.5" cy="1372.7" r="6.3" fill="#86a88b"/></g>
<g opacity="0.92"><circle cx="2656.7" cy="1398.1" r="4.8" fill="#7b9f83"/><circle cx="2656.4" cy="1382.0" r="8.4" fill="#86a88b"/><circle cx="2642.4" cy="1395.2" r="7.1" fill="#5e8669"/><circle cx="2649.6" cy="1388.3" r="6.2" fill="#6c9275"/><circle cx="2660.0" cy="1389.1" r="6.4" fill="#547c60"/><circle cx="2648.0" cy="1389.2" r="6.1" fill="#7b9f83"/><circle cx="2645.8" cy="1382.5" r="6.2" fill="#86a88b"/></g>
<g opacity="0.92"><circle cx="2564.5" cy="1428.5" r="6.8" fill="#7b9f83"/><circle cx="2570.8" cy="1428.1" r="7.0" fill="#86a88b"/><circle cx="2563.9" cy="1432.6" r="8.0" fill="#5e8669"/><circle cx="2566.7" cy="1429.4" r="5.7" fill="#6c9275"/><circle cx="2565.8" cy="1433.5" r="5.1" fill="#547c60"/><circle cx="2563.4" cy="1431.1" r="4.9" fill="#7b9f83"/><circle cx="2566.1" cy="1420.2" r="7.8" fill="#86a88b"/></g>
<g opacity="0.92"><circle cx="2624.6" cy="1427.4" r="5.3" fill="#7b9f83"/><circle cx="2605.8" cy="1423.9" r="7.3" fill="#86a88b"/><circle cx="2616.2" cy="1433.1" r="8.3" fill="#5e8669"/><circle cx="2607.5" cy="1425.5" r="4.9" fill="#6c9275"/><circle cx="2609.0" cy="1432.2" r="5.8" fill="#547c60"/><circle cx="2621.0" cy="1420.0" r="7.6" fill="#7b9f83"/><circle cx="2607.3" cy="1419.4" r="4.9" fill="#86a88b"/></g>
<g opacity="0.92"><circle cx="2574.9" cy="1466.3" r="6.9" fill="#7b9f83"/><circle cx="2567.7" cy="1480.0" r="7.1" fill="#86a88b"/><circle cx="2584.6" cy="1478.3" r="5.4" fill="#5e8669"/><circle cx="2569.6" cy="1476.4" r="5.5" fill="#6c9275"/><circle cx="2578.0" cy="1476.4" r="6.5" fill="#547c60"/><circle cx="2568.4" cy="1482.9" r="7.7" fill="#7b9f83"/><circle cx="2579.2" cy="1470.8" r="6.7" fill="#86a88b"/></g>
<g opacity="0.92"><circle cx="2609.7" cy="1471.1" r="6.5" fill="#7b9f83"/><circle cx="2619.6" cy="1473.6" r="7.5" fill="#86a88b"/><circle cx="2623.6" cy="1457.2" r="5.9" fill="#5e8669"/><circle cx="2611.3" cy="1472.9" r="4.9" fill="#6c9275"/><circle cx="2605.8" cy="1472.2" r="6.1" fill="#547c60"/><circle cx="2619.1" cy="1474.6" r="6.1" fill="#7b9f83"/><circle cx="2606.2" cy="1461.1" r="7.3" fill="#86a88b"/></g>
<g opacity="0.92"><circle cx="2651.1" cy="1479.2" r="5.3" fill="#7b9f83"/><circle cx="2655.4" cy="1484.9" r="6.3" fill="#86a88b"/><circle cx="2656.5" cy="1478.1" r="7.9" fill="#5e8669"/><circle cx="2661.8" cy="1485.6" r="5.4" fill="#6c9275"/><circle cx="2661.2" cy="1467.7" r="8.4" fill="#547c60"/><circle cx="2654.8" cy="1468.2" r="8.2" fill="#7b9f83"/><circle cx="2662.7" cy="1466.4" r="7.0" fill="#86a88b"/></g>
<g opacity="0.92"><circle cx="2672.7" cy="1540.7" r="7.5" fill="#7b9f83"/><circle cx="2667.6" cy="1529.1" r="8.2" fill="#86a88b"/><circle cx="2656.9" cy="1524.6" r="5.2" fill="#5e8669"/><circle cx="2653.6" cy="1522.8" r="4.8" fill="#6c9275"/><circle cx="2670.8" cy="1537.3" r="7.6" fill="#547c60"/><circle cx="2661.1" cy="1539.3" r="5.6" fill="#7b9f83"/><circle cx="2653.5" cy="1527.2" r="5.8" fill="#86a88b"/></g>
<g opacity="0.92"><circle cx="2579.4" cy="1571.7" r="7.1" fill="#7b9f83"/><circle cx="2583.5" cy="1574.7" r="7.6" fill="#86a88b"/><circle cx="2582.4" cy="1566.3" r="5.6" fill="#5e8669"/><circle cx="2567.9" cy="1568.9" r="8.2" fill="#6c9275"/><circle cx="2575.4" cy="1569.1" r="7.8" fill="#547c60"/><circle cx="2567.1" cy="1576.8" r="6.0" fill="#7b9f83"/><circle cx="2568.8" cy="1578.1" r="7.3" fill="#86a88b"/></g>
<g opacity="0.92"><circle cx="2620.4" cy="1567.8" r="8.0" fill="#7b9f83"/><circle cx="2609.2" cy="1554.3" r="7.0" fill="#86a88b"/><circle cx="2611.4" cy="1557.3" r="8.4" fill="#5e8669"/><circle cx="2612.3" cy="1563.9" r="7.7" fill="#6c9275"/><circle cx="2618.0" cy="1558.0" r="4.9" fill="#547c60"/><circle cx="2613.8" cy="1566.2" r="5.5" fill="#7b9f83"/><circle cx="2620.3" cy="1562.2" r="7.8" fill="#86a88b"/></g>
<g opacity="0.92"><circle cx="2675.5" cy="1585.3" r="5.7" fill="#7b9f83"/><circle cx="2678.6" cy="1580.6" r="5.4" fill="#86a88b"/><circle cx="2673.7" cy="1573.8" r="7.0" fill="#5e8669"/><circle cx="2661.7" cy="1584.7" r="6.8" fill="#6c9275"/><circle cx="2665.6" cy="1574.9" r="8.1" fill="#547c60"/><circle cx="2662.5" cy="1571.5" r="8.3" fill="#7b9f83"/><circle cx="2670.6" cy="1570.8" r="7.9" fill="#86a88b"/></g>
<g opacity="0.92"><circle cx="2633.9" cy="1589.9" r="5.7" fill="#7b9f83"/><circle cx="2625.7" cy="1599.4" r="5.6" fill="#86a88b"/><circle cx="2620.8" cy="1591.9" r="6.5" fill="#5e8669"/><circle cx="2631.1" cy="1598.3" r="5.2" fill="#6c9275"/><circle cx="2624.5" cy="1590.4" r="7.0" fill="#547c60"/><circle cx="2622.6" cy="1603.8" r="5.4" fill="#7b9f83"/><circle cx="2620.0" cy="1593.4" r="4.9" fill="#86a88b"/></g>
<g opacity="0.92"><circle cx="2590.3" cy="1637.4" r="4.8" fill="#7b9f83"/><circle cx="2589.8" cy="1627.3" r="7.4" fill="#86a88b"/><circle cx="2572.2" cy="1623.3" r="8.5" fill="#5e8669"/><circle cx="2582.4" cy="1640.5" r="5.3" fill="#6c9275"/><circle cx="2582.6" cy="1630.4" r="6.3" fill="#547c60"/><circle cx="2590.6" cy="1623.4" r="6.8" fill="#7b9f83"/><circle cx="2590.7" cy="1640.3" r="5.0" fill="#86a88b"/></g>
<g opacity="0.92"><circle cx="2590.7" cy="1683.2" r="6.2" fill="#7b9f83"/><circle cx="2601.1" cy="1671.6" r="5.6" fill="#86a88b"/><circle cx="2581.0" cy="1662.7" r="8.4" fill="#5e8669"/><circle cx="2591.8" cy="1669.6" r="7.5" fill="#6c9275"/><circle cx="2581.0" cy="1682.9" r="6.0" fill="#547c60"/><circle cx="2595.4" cy="1662.6" r="7.9" fill="#7b9f83"/><circle cx="2593.3" cy="1666.8" r="5.1" fill="#86a88b"/></g>
<g opacity="0.92"><circle cx="2583.7" cy="1715.2" r="5.6" fill="#7b9f83"/><circle cx="2589.6" cy="1720.5" r="5.5" fill="#86a88b"/><circle cx="2592.0" cy="1721.8" r="5.7" fill="#5e8669"/><circle cx="2584.4" cy="1725.6" r="5.8" fill="#6c9275"/><circle cx="2585.4" cy="1705.6" r="5.4" fill="#547c60"/><circle cx="2588.5" cy="1711.2" r="7.8" fill="#7b9f83"/><circle cx="2581.2" cy="1706.6" r="8.3" fill="#86a88b"/></g>
<g opacity="0.92"><circle cx="2596.1" cy="1751.9" r="8.4" fill="#7b9f83"/><circle cx="2581.9" cy="1759.6" r="5.2" fill="#86a88b"/><circle cx="2596.5" cy="1763.3" r="7.6" fill="#5e8669"/><circle cx="2587.3" cy="1764.0" r="7.6" fill="#6c9275"/><circle cx="2597.7" cy="1762.7" r="8.1" fill="#547c60"/><circle cx="2579.7" cy="1753.7" r="6.6" fill="#7b9f83"/><circle cx="2594.9" cy="1761.9" r="8.1" fill="#86a88b"/></g>
<g opacity="0.92"><circle cx="2684.1" cy="1225.6" r="8.0" fill="#7b9f83"/><circle cx="2677.1" cy="1221.3" r="6.3" fill="#86a88b"/><circle cx="2679.5" cy="1230.5" r="6.7" fill="#5e8669"/><circle cx="2686.0" cy="1225.7" r="8.0" fill="#6c9275"/><circle cx="2681.2" cy="1227.8" r="7.9" fill="#547c60"/><circle cx="2688.4" cy="1234.3" r="4.8" fill="#7b9f83"/><circle cx="2681.2" cy="1228.4" r="7.0" fill="#86a88b"/></g>
<g opacity="0.92"><circle cx="2731.9" cy="1229.2" r="4.9" fill="#7b9f83"/><circle cx="2744.9" cy="1237.3" r="5.0" fill="#86a88b"/><circle cx="2729.1" cy="1225.8" r="7.6" fill="#5e8669"/><circle cx="2738.1" cy="1227.8" r="7.3" fill="#6c9275"/><circle cx="2741.4" cy="1231.4" r="8.2" fill="#547c60"/><circle cx="2737.4" cy="1238.7" r="5.8" fill="#7b9f83"/><circle cx="2732.6" cy="1236.2" r="5.7" fill="#86a88b"/></g>
<g opacity="0.92"><circle cx="2777.7" cy="1236.4" r="5.1" fill="#7b9f83"/><circle cx="2775.7" cy="1223.3" r="6.3" fill="#86a88b"/><circle cx="2770.3" cy="1220.7" r="5.9" fill="#5e8669"/><circle cx="2788.7" cy="1239.0" r="5.4" fill="#6c9275"/><circle cx="2770.8" cy="1235.1" r="6.9" fill="#547c60"/><circle cx="2774.7" cy="1224.6" r="8.2" fill="#7b9f83"/><circle cx="2782.2" cy="1231.8" r="6.3" fill="#86a88b"/></g>
<g opacity="0.92"><circle cx="2795.2" cy="1275.9" r="5.9" fill="#7b9f83"/><circle cx="2799.0" cy="1272.9" r="7.6" fill="#86a88b"/><circle cx="2804.5" cy="1267.8" r="6.8" fill="#5e8669"/><circle cx="2812.7" cy="1266.2" r="8.4" fill="#6c9275"/><circle cx="2808.9" cy="1261.6" r="8.0" fill="#547c60"/><circle cx="2795.6" cy="1255.2" r="4.9" fill="#7b9f83"/><circle cx="2797.5" cy="1260.6" r="8.0" fill="#86a88b"/></g>
<g opacity="0.92"><circle cx="2808.1" cy="1403.0" r="6.8" fill="#7b9f83"/><circle cx="2793.0" cy="1401.7" r="7.9" fill="#86a88b"/><circle cx="2793.3" cy="1391.3" r="7.0" fill="#5e8669"/><circle cx="2802.5" cy="1401.6" r="5.8" fill="#6c9275"/><circle cx="2797.0" cy="1384.2" r="6.9" fill="#547c60"/><circle cx="2800.5" cy="1386.1" r="5.2" fill="#7b9f83"/><circle cx="2807.3" cy="1390.6" r="6.9" fill="#86a88b"/></g>
<g opacity="0.92"><circle cx="2784.8" cy="1441.4" r="5.1" fill="#7b9f83"/><circle cx="2791.3" cy="1438.3" r="5.9" fill="#86a88b"/><circle cx="2792.4" cy="1427.6" r="5.3" fill="#5e8669"/><circle cx="2790.0" cy="1430.6" r="7.5" fill="#6c9275"/><circle cx="2799.2" cy="1426.7" r="7.9" fill="#547c60"/><circle cx="2780.6" cy="1443.2" r="4.9" fill="#7b9f83"/><circle cx="2784.9" cy="1437.4" r="5.9" fill="#86a88b"/></g>
<g opacity="0.92"><circle cx="2762.2" cy="1478.8" r="5.6" fill="#7b9f83"/><circle cx="2775.4" cy="1480.1" r="8.2" fill="#86a88b"/><circle cx="2765.2" cy="1474.3" r="6.6" fill="#5e8669"/><circle cx="2771.3" cy="1472.1" r="7.2" fill="#6c9275"/><circle cx="2770.7" cy="1468.4" r="8.2" fill="#547c60"/><circle cx="2758.4" cy="1460.1" r="6.1" fill="#7b9f83"/><circle cx="2770.0" cy="1480.7" r="5.8" fill="#86a88b"/></g>
<g opacity="0.92"><circle cx="2783.3" cy="1484.1" r="6.9" fill="#7b9f83"/><circle cx="2796.2" cy="1488.5" r="6.7" fill="#86a88b"/><circle cx="2782.5" cy="1498.5" r="8.5" fill="#5e8669"/><circle cx="2779.1" cy="1488.0" r="8.4" fill="#6c9275"/><circle cx="2788.3" cy="1486.7" r="8.4" fill="#547c60"/><circle cx="2782.5" cy="1498.1" r="4.9" fill="#7b9f83"/><circle cx="2796.5" cy="1504.1" r="8.3" fill="#86a88b"/></g>
<g opacity="0.92"><circle cx="2806.5" cy="1540.3" r="5.6" fill="#7b9f83"/><circle cx="2800.8" cy="1521.1" r="8.0" fill="#86a88b"/><circle cx="2808.4" cy="1536.2" r="6.9" fill="#5e8669"/><circle cx="2807.6" cy="1538.0" r="8.0" fill="#6c9275"/><circle cx="2797.8" cy="1525.6" r="6.6" fill="#547c60"/><circle cx="2805.0" cy="1531.1" r="5.1" fill="#7b9f83"/><circle cx="2799.5" cy="1522.7" r="8.4" fill="#86a88b"/></g>
<g opacity="0.92"><circle cx="2775.5" cy="1551.5" r="8.1" fill="#7b9f83"/><circle cx="2767.1" cy="1564.4" r="6.2" fill="#86a88b"/><circle cx="2773.8" cy="1548.4" r="7.6" fill="#5e8669"/><circle cx="2779.0" cy="1560.5" r="6.7" fill="#6c9275"/><circle cx="2772.1" cy="1552.3" r="8.1" fill="#547c60"/><circle cx="2775.3" cy="1559.7" r="5.4" fill="#7b9f83"/><circle cx="2775.3" cy="1554.4" r="8.5" fill="#86a88b"/></g>
<g opacity="0.92"><circle cx="2794.3" cy="1586.6" r="7.2" fill="#7b9f83"/><circle cx="2780.2" cy="1585.2" r="5.0" fill="#86a88b"/><circle cx="2778.7" cy="1590.7" r="7.8" fill="#5e8669"/><circle cx="2786.8" cy="1594.6" r="5.6" fill="#6c9275"/><circle cx="2786.1" cy="1601.1" r="7.6" fill="#547c60"/><circle cx="2775.9" cy="1594.8" r="7.3" fill="#7b9f83"/><circle cx="2782.8" cy="1594.2" r="4.8" fill="#86a88b"/></g>
<g opacity="0.92"><circle cx="2788.5" cy="1638.3" r="5.3" fill="#7b9f83"/><circle cx="2780.7" cy="1635.7" r="7.0" fill="#86a88b"/><circle cx="2787.8" cy="1635.2" r="7.6" fill="#5e8669"/><circle cx="2783.1" cy="1628.2" r="7.9" fill="#6c9275"/><circle cx="2782.3" cy="1619.2" r="5.3" fill="#547c60"/><circle cx="2784.1" cy="1625.0" r="5.9" fill="#7b9f83"/><circle cx="2788.4" cy="1632.4" r="4.9" fill="#86a88b"/></g>
<g opacity="0.92"><circle cx="2761.7" cy="1667.9" r="7.8" fill="#7b9f83"/><circle cx="2765.5" cy="1656.4" r="5.4" fill="#86a88b"/><circle cx="2772.6" cy="1668.1" r="8.0" fill="#5e8669"/><circle cx="2761.0" cy="1656.3" r="7.4" fill="#6c9275"/><circle cx="2775.5" cy="1652.2" r="5.9" fill="#547c60"/><circle cx="2759.8" cy="1661.4" r="6.4" fill="#7b9f83"/><circle cx="2760.1" cy="1656.3" r="6.5" fill="#86a88b"/></g>
<g opacity="0.92"><circle cx="2778.2" cy="1693.0" r="7.2" fill="#7b9f83"/><circle cx="2784.6" cy="1689.6" r="7.6" fill="#86a88b"/><circle cx="2779.3" cy="1697.6" r="5.8" fill="#5e8669"/><circle cx="2781.3" cy="1702.1" r="7.3" fill="#6c9275"/><circle cx="2780.2" cy="1689.9" r="5.4" fill="#547c60"/><circle cx="2786.7" cy="1702.9" r="7.3" fill="#7b9f83"/><circle cx="2784.7" cy="1696.7" r="4.9" fill="#86a88b"/></g>
<g opacity="0.92"><circle cx="2696.1" cy="1703.0" r="7.2" fill="#7b9f83"/><circle cx="2696.0" cy="1698.9" r="6.3" fill="#86a88b"/><circle cx="2693.5" cy="1703.9" r="8.4" fill="#5e8669"/><circle cx="2706.9" cy="1703.8" r="8.3" fill="#6c9275"/><circle cx="2709.8" cy="1695.2" r="5.2" fill="#547c60"/><circle cx="2702.0" cy="1693.1" r="7.2" fill="#7b9f83"/><circle cx="2710.9" cy="1708.0" r="7.7" fill="#86a88b"/></g>
<g opacity="0.92"><circle cx="2738.1" cy="1717.2" r="8.2" fill="#7b9f83"/><circle cx="2751.5" cy="1719.7" r="5.0" fill="#86a88b"/><circle cx="2749.5" cy="1722.4" r="6.3" fill="#5e8669"/><circle cx="2748.9" cy="1730.3" r="5.0" fill="#6c9275"/><circle cx="2745.0" cy="1730.6" r="7.0" fill="#547c60"/><circle cx="2757.9" cy="1719.5" r="6.3" fill="#7b9f83"/><circle cx="2752.2" cy="1730.7" r="8.0" fill="#86a88b"/></g>
<g opacity="0.92"><circle cx="2780.1" cy="1719.0" r="7.7" fill="#7b9f83"/><circle cx="2785.2" cy="1737.6" r="4.9" fill="#86a88b"/><circle cx="2779.8" cy="1720.2" r="8.1" fill="#5e8669"/><circle cx="2791.3" cy="1731.6" r="8.4" fill="#6c9275"/><circle cx="2778.7" cy="1721.6" r="6.8" fill="#547c60"/><circle cx="2782.6" cy="1719.4" r="6.1" fill="#7b9f83"/><circle cx="2776.3" cy="1739.0" r="6.7" fill="#86a88b"/></g>
<g opacity="0.92"><circle cx="2697.9" cy="1762.1" r="6.1" fill="#7b9f83"/><circle cx="2677.1" cy="1753.4" r="7.0" fill="#86a88b"/><circle cx="2691.9" cy="1765.2" r="8.4" fill="#5e8669"/><circle cx="2684.0" cy="1759.3" r="6.2" fill="#6c9275"/><circle cx="2684.1" cy="1756.4" r="7.9" fill="#547c60"/><circle cx="2695.2" cy="1752.9" r="8.4" fill="#7b9f83"/><circle cx="2693.1" cy="1764.4" r="4.8" fill="#86a88b"/></g>
<g opacity="0.92"><circle cx="2745.6" cy="1763.4" r="5.1" fill="#7b9f83"/><circle cx="2733.4" cy="1772.2" r="6.6" fill="#86a88b"/><circle cx="2740.1" cy="1760.1" r="8.0" fill="#5e8669"/><circle cx="2739.3" cy="1771.8" r="6.8" fill="#6c9275"/><circle cx="2742.5" cy="1774.6" r="7.5" fill="#547c60"/><circle cx="2743.0" cy="1760.6" r="4.9" fill="#7b9f83"/><circle cx="2749.0" cy="1766.7" r="5.8" fill="#86a88b"/></g>
<g opacity="0.92"><circle cx="2783.8" cy="1769.5" r="6.9" fill="#7b9f83"/><circle cx="2794.3" cy="1769.4" r="5.4" fill="#86a88b"/><circle cx="2775.8" cy="1766.8" r="8.3" fill="#5e8669"/><circle cx="2780.9" cy="1756.8" r="6.0" fill="#6c9275"/><circle cx="2779.2" cy="1769.2" r="5.9" fill="#547c60"/><circle cx="2782.8" cy="1770.7" r="7.5" fill="#7b9f83"/><circle cx="2788.0" cy="1772.0" r="7.0" fill="#86a88b"/></g>
<g opacity="0.92"><circle cx="1020.4" cy="85.9" r="5.3" fill="#86a87a"/><circle cx="1023.4" cy="82.5" r="6.7" fill="#93b384"/><circle cx="1015.0" cy="90.9" r="7.0" fill="#668b60"/><circle cx="1008.1" cy="81.0" r="4.5" fill="#769a6c"/><circle cx="1022.3" cy="90.7" r="5.4" fill="#5c8258"/><circle cx="1025.8" cy="81.1" r="6.8" fill="#86a87a"/><circle cx="1006.8" cy="94.8" r="4.7" fill="#93b384"/></g>
<g opacity="0.92"><circle cx="1007.0" cy="138.6" r="6.5" fill="#86a87a"/><circle cx="1010.8" cy="136.9" r="5.9" fill="#93b384"/><circle cx="1013.8" cy="141.1" r="7.6" fill="#668b60"/><circle cx="1018.6" cy="132.8" r="5.0" fill="#769a6c"/><circle cx="1023.6" cy="133.6" r="7.7" fill="#5c8258"/><circle cx="1018.1" cy="138.6" r="5.4" fill="#86a87a"/><circle cx="1010.1" cy="137.5" r="7.0" fill="#93b384"/></g>
<g opacity="0.92"><circle cx="1018.4" cy="191.6" r="4.5" fill="#86a87a"/><circle cx="1014.6" cy="196.4" r="7.9" fill="#93b384"/><circle cx="1018.0" cy="188.1" r="6.8" fill="#668b60"/><circle cx="1011.9" cy="191.1" r="5.1" fill="#769a6c"/><circle cx="1004.7" cy="205.9" r="5.4" fill="#5c8258"/><circle cx="1004.9" cy="197.9" r="7.9" fill="#86a87a"/><circle cx="1012.2" cy="205.1" r="5.5" fill="#93b384"/></g>
<g opacity="0.92"><circle cx="2302.1" cy="108.3" r="4.6" fill="#86a87a"/><circle cx="2297.8" cy="112.8" r="6.5" fill="#93b384"/><circle cx="2305.5" cy="110.0" r="6.4" fill="#668b60"/><circle cx="2310.0" cy="104.1" r="6.6" fill="#769a6c"/><circle cx="2295.7" cy="112.2" r="7.9" fill="#5c8258"/><circle cx="2311.1" cy="111.0" r="7.3" fill="#86a87a"/><circle cx="2294.4" cy="108.3" r="6.7" fill="#93b384"/></g>
<g opacity="0.92"><circle cx="2298.4" cy="220.8" r="6.6" fill="#86a87a"/><circle cx="2304.0" cy="223.4" r="4.8" fill="#93b384"/><circle cx="2296.2" cy="216.7" r="6.9" fill="#668b60"/><circle cx="2299.6" cy="214.1" r="6.3" fill="#769a6c"/><circle cx="2295.0" cy="215.4" r="7.0" fill="#5c8258"/><circle cx="2294.0" cy="212.7" r="5.3" fill="#86a87a"/><circle cx="2308.7" cy="216.1" r="7.7" fill="#93b384"/></g>
<g opacity="0.92"><circle cx="2957.2" cy="114.1" r="8.0" fill="#86a87a"/><circle cx="2949.5" cy="127.4" r="6.1" fill="#93b384"/><circle cx="2942.2" cy="119.4" r="4.8" fill="#668b60"/><circle cx="2960.6" cy="111.3" r="7.9" fill="#769a6c"/><circle cx="2947.1" cy="115.7" r="4.7" fill="#5c8258"/><circle cx="2947.6" cy="118.9" r="6.2" fill="#86a87a"/><circle cx="2943.1" cy="128.9" r="6.1" fill="#93b384"/></g>
<g opacity="0.92"><circle cx="2949.5" cy="155.3" r="5.5" fill="#86a87a"/><circle cx="2950.9" cy="163.3" r="6.6" fill="#93b384"/><circle cx="2951.9" cy="156.7" r="6.4" fill="#668b60"/><circle cx="2945.4" cy="164.9" r="6.1" fill="#769a6c"/><circle cx="2945.7" cy="172.3" r="6.8" fill="#5c8258"/><circle cx="2959.7" cy="160.1" r="8.0" fill="#86a87a"/><circle cx="2959.8" cy="156.6" r="6.4" fill="#93b384"/></g>
<g opacity="0.92"><circle cx="2948.6" cy="208.4" r="5.4" fill="#86a87a"/><circle cx="2949.9" cy="210.0" r="4.6" fill="#93b384"/><circle cx="2952.9" cy="200.3" r="6.3" fill="#668b60"/><circle cx="2951.6" cy="203.5" r="6.4" fill="#769a6c"/><circle cx="2961.3" cy="215.1" r="7.5" fill="#5c8258"/><circle cx="2943.6" cy="207.1" r="6.1" fill="#86a87a"/><circle cx="2960.6" cy="206.1" r="7.5" fill="#93b384"/></g>
<g opacity="0.92"><circle cx="2948.0" cy="471.7" r="4.9" fill="#86a87a"/><circle cx="2952.4" cy="481.3" r="5.0" fill="#93b384"/><circle cx="2959.4" cy="486.0" r="5.4" fill="#668b60"/><circle cx="2949.4" cy="483.4" r="4.9" fill="#769a6c"/><circle cx="2953.2" cy="471.9" r="5.3" fill="#5c8258"/><circle cx="2955.4" cy="476.7" r="7.3" fill="#86a87a"/><circle cx="2959.1" cy="483.0" r="6.9" fill="#93b384"/></g>
<g opacity="0.92"><circle cx="2943.8" cy="545.8" r="5.9" fill="#86a87a"/><circle cx="2961.0" cy="538.2" r="4.8" fill="#93b384"/><circle cx="2952.2" cy="533.5" r="5.9" fill="#668b60"/><circle cx="2960.2" cy="550.4" r="5.7" fill="#769a6c"/><circle cx="2943.7" cy="536.8" r="5.6" fill="#5c8258"/><circle cx="2951.9" cy="533.2" r="5.0" fill="#86a87a"/><circle cx="2957.3" cy="543.6" r="4.8" fill="#93b384"/></g>
<g opacity="0.92"><circle cx="2953.9" cy="618.8" r="6.9" fill="#86a87a"/><circle cx="2956.2" cy="606.3" r="6.9" fill="#93b384"/><circle cx="2959.4" cy="617.6" r="5.9" fill="#668b60"/><circle cx="2946.6" cy="620.7" r="7.9" fill="#769a6c"/><circle cx="2947.8" cy="606.3" r="7.9" fill="#5c8258"/><circle cx="2958.9" cy="606.0" r="6.5" fill="#86a87a"/><circle cx="2956.7" cy="609.2" r="6.4" fill="#93b384"/></g>
<g opacity="0.92"><circle cx="2951.1" cy="719.1" r="4.5" fill="#86a87a"/><circle cx="2952.2" cy="703.7" r="6.7" fill="#93b384"/><circle cx="2958.1" cy="706.7" r="5.8" fill="#668b60"/><circle cx="2956.1" cy="714.7" r="7.5" fill="#769a6c"/><circle cx="2959.1" cy="715.7" r="4.7" fill="#5c8258"/><circle cx="2951.1" cy="713.3" r="6.8" fill="#86a87a"/><circle cx="2951.7" cy="709.5" r="7.1" fill="#93b384"/></g>
<g opacity="0.92"><circle cx="2951.3" cy="781.6" r="7.5" fill="#86a87a"/><circle cx="2952.8" cy="789.1" r="7.3" fill="#93b384"/><circle cx="2943.5" cy="785.4" r="4.6" fill="#668b60"/><circle cx="2959.4" cy="781.9" r="5.6" fill="#769a6c"/><circle cx="2952.3" cy="773.0" r="7.6" fill="#5c8258"/><circle cx="2941.1" cy="788.7" r="5.8" fill="#86a87a"/><circle cx="2941.5" cy="792.3" r="7.4" fill="#93b384"/></g>
<g opacity="0.92"><circle cx="1099.9" cy="1130.7" r="5.9" fill="#86a87a"/><circle cx="1094.8" cy="1138.0" r="4.8" fill="#93b384"/><circle cx="1098.0" cy="1149.0" r="6.0" fill="#668b60"/><circle cx="1100.1" cy="1141.5" r="6.4" fill="#769a6c"/><circle cx="1095.1" cy="1130.0" r="6.7" fill="#5c8258"/><circle cx="1085.1" cy="1130.2" r="5.6" fill="#86a87a"/><circle cx="1100.5" cy="1135.1" r="5.5" fill="#93b384"/></g>
<g opacity="0.92"><circle cx="1276.1" cy="1146.7" r="7.9" fill="#86a87a"/><circle cx="1261.3" cy="1135.0" r="5.9" fill="#93b384"/><circle cx="1271.8" cy="1142.4" r="6.7" fill="#668b60"/><circle cx="1278.8" cy="1149.5" r="4.5" fill="#769a6c"/><circle cx="1269.7" cy="1133.5" r="7.3" fill="#5c8258"/><circle cx="1278.9" cy="1131.7" r="7.4" fill="#86a87a"/><circle cx="1272.7" cy="1134.0" r="5.0" fill="#93b384"/></g>
<g opacity="0.92"><circle cx="1400.5" cy="1133.6" r="7.6" fill="#86a87a"/><circle cx="1398.5" cy="1132.9" r="6.9" fill="#93b384"/><circle cx="1396.8" cy="1149.2" r="7.8" fill="#668b60"/><circle cx="1405.7" cy="1141.8" r="6.5" fill="#769a6c"/><circle cx="1392.4" cy="1147.6" r="5.8" fill="#5c8258"/><circle cx="1408.3" cy="1147.6" r="5.2" fill="#86a87a"/><circle cx="1396.8" cy="1135.9" r="6.0" fill="#93b384"/></g>
<g opacity="0.92"><circle cx="1464.4" cy="1135.1" r="7.6" fill="#86a87a"/><circle cx="1467.6" cy="1135.1" r="5.2" fill="#93b384"/><circle cx="1463.4" cy="1143.4" r="6.1" fill="#668b60"/><circle cx="1479.6" cy="1141.4" r="6.8" fill="#769a6c"/><circle cx="1476.6" cy="1139.7" r="5.7" fill="#5c8258"/><circle cx="1464.8" cy="1131.8" r="5.4" fill="#86a87a"/><circle cx="1467.5" cy="1146.5" r="6.6" fill="#93b384"/></g>
<g opacity="0.92"><circle cx="1760.2" cy="1151.0" r="7.1" fill="#86a87a"/><circle cx="1773.8" cy="1150.0" r="6.5" fill="#93b384"/><circle cx="1770.5" cy="1147.0" r="8.0" fill="#668b60"/><circle cx="1760.4" cy="1135.8" r="7.4" fill="#769a6c"/><circle cx="1759.4" cy="1140.8" r="7.9" fill="#5c8258"/><circle cx="1769.7" cy="1146.1" r="6.6" fill="#86a87a"/><circle cx="1759.2" cy="1132.8" r="4.5" fill="#93b384"/></g>
<g opacity="0.92"><circle cx="1904.6" cy="1146.6" r="6.9" fill="#86a87a"/><circle cx="1913.3" cy="1146.3" r="5.1" fill="#93b384"/><circle cx="1904.6" cy="1134.4" r="5.1" fill="#668b60"/><circle cx="1900.9" cy="1145.5" r="5.4" fill="#769a6c"/><circle cx="1914.0" cy="1145.2" r="7.5" fill="#5c8258"/><circle cx="1899.5" cy="1141.6" r="7.1" fill="#86a87a"/><circle cx="1911.0" cy="1148.4" r="5.6" fill="#93b384"/></g>
<g opacity="0.92"><circle cx="2028.9" cy="1146.0" r="7.8" fill="#86a87a"/><circle cx="2015.5" cy="1151.5" r="6.0" fill="#93b384"/><circle cx="2031.3" cy="1152.3" r="7.7" fill="#668b60"/><circle cx="2025.6" cy="1140.9" r="5.6" fill="#769a6c"/><circle cx="2028.1" cy="1152.2" r="6.7" fill="#5c8258"/><circle cx="2027.5" cy="1142.0" r="7.1" fill="#86a87a"/><circle cx="2028.4" cy="1138.0" r="6.4" fill="#93b384"/></g>
<g opacity="0.92"><circle cx="2128.8" cy="1135.4" r="6.9" fill="#86a87a"/><circle cx="2130.3" cy="1140.2" r="7.8" fill="#93b384"/><circle cx="2130.9" cy="1147.5" r="7.5" fill="#668b60"/><circle cx="2123.2" cy="1152.5" r="7.9" fill="#769a6c"/><circle cx="2136.0" cy="1153.1" r="7.1" fill="#5c8258"/><circle cx="2125.8" cy="1152.8" r="7.0" fill="#86a87a"/><circle cx="2128.5" cy="1152.6" r="7.2" fill="#93b384"/></g>
<g opacity="0.92"><circle cx="1003.1" cy="1217.8" r="7.3" fill="#86a87a"/><circle cx="1005.1" cy="1226.2" r="4.7" fill="#93b384"/><circle cx="1013.4" cy="1212.0" r="5.8" fill="#668b60"/><circle cx="1007.7" cy="1224.1" r="7.1" fill="#769a6c"/><circle cx="1015.0" cy="1209.4" r="6.4" fill="#5c8258"/><circle cx="1020.1" cy="1213.2" r="5.1" fill="#86a87a"/><circle cx="1011.6" cy="1224.2" r="6.9" fill="#93b384"/></g>
<g opacity="0.92"><circle cx="1016.9" cy="1269.8" r="5.1" fill="#86a87a"/><circle cx="1004.0" cy="1274.7" r="4.6" fill="#93b384"/><circle cx="1010.3" cy="1267.3" r="7.7" fill="#668b60"/><circle cx="1011.1" cy="1282.1" r="5.1" fill="#769a6c"/><circle cx="1021.7" cy="1276.7" r="6.8" fill="#5c8258"/><circle cx="1010.1" cy="1266.7" r="6.5" fill="#86a87a"/><circle cx="1015.4" cy="1263.5" r="6.4" fill="#93b384"/></g>
<g opacity="0.92"><circle cx="1002.7" cy="1321.6" r="4.6" fill="#86a87a"/><circle cx="1010.5" cy="1325.8" r="6.3" fill="#93b384"/><circle cx="1012.0" cy="1319.2" r="5.9" fill="#668b60"/><circle cx="1020.1" cy="1331.9" r="7.0" fill="#769a6c"/><circle cx="1015.5" cy="1332.0" r="5.2" fill="#5c8258"/><circle cx="1003.7" cy="1324.1" r="6.4" fill="#86a87a"/><circle cx="1021.0" cy="1332.0" r="5.2" fill="#93b384"/></g>
<g opacity="0.92"><circle cx="1012.8" cy="1372.3" r="7.8" fill="#86a87a"/><circle cx="1004.8" cy="1378.3" r="5.8" fill="#93b384"/><circle cx="1020.9" cy="1368.8" r="7.9" fill="#668b60"/><circle cx="1016.7" cy="1374.8" r="6.0" fill="#769a6c"/><circle cx="1008.2" cy="1380.5" r="6.8" fill="#5c8258"/><circle cx="1004.0" cy="1378.0" r="6.3" fill="#86a87a"/><circle cx="1008.2" cy="1384.0" r="7.5" fill="#93b384"/></g>
<g opacity="0.92"><circle cx="1020.2" cy="1441.8" r="7.8" fill="#86a87a"/><circle cx="1005.7" cy="1444.1" r="6.6" fill="#93b384"/><circle cx="1019.3" cy="1434.4" r="6.0" fill="#668b60"/><circle cx="1003.4" cy="1428.0" r="6.7" fill="#769a6c"/><circle cx="1005.2" cy="1434.5" r="4.7" fill="#5c8258"/><circle cx="1010.9" cy="1432.8" r="7.6" fill="#86a87a"/><circle cx="1017.9" cy="1440.7" r="4.7" fill="#93b384"/></g>
<g opacity="0.92"><circle cx="1006.9" cy="1475.9" r="7.0" fill="#86a87a"/><circle cx="1007.5" cy="1488.4" r="5.4" fill="#93b384"/><circle cx="1004.8" cy="1486.1" r="4.8" fill="#668b60"/><circle cx="1007.3" cy="1488.8" r="4.6" fill="#769a6c"/><circle cx="1018.5" cy="1470.4" r="4.6" fill="#5c8258"/><circle cx="1003.9" cy="1471.8" r="7.3" fill="#86a87a"/><circle cx="1015.4" cy="1489.5" r="6.9" fill="#93b384"/></g>
<g opacity="0.92"><circle cx="1018.9" cy="1537.0" r="7.1" fill="#86a87a"/><circle cx="1017.6" cy="1537.3" r="7.9" fill="#93b384"/><circle cx="1008.9" cy="1537.3" r="6.7" fill="#668b60"/><circle cx="1011.5" cy="1541.4" r="5.8" fill="#769a6c"/><circle cx="1016.5" cy="1541.9" r="5.5" fill="#5c8258"/><circle cx="1006.5" cy="1541.5" r="5.5" fill="#86a87a"/><circle cx="1018.6" cy="1537.1" r="5.9" fill="#93b384"/></g>
<g opacity="0.92"><circle cx="1014.6" cy="1600.2" r="7.4" fill="#86a87a"/><circle cx="1005.2" cy="1592.1" r="5.2" fill="#93b384"/><circle cx="1021.2" cy="1593.7" r="7.3" fill="#668b60"/><circle cx="1013.4" cy="1595.0" r="7.7" fill="#769a6c"/><circle cx="1006.0" cy="1605.3" r="5.1" fill="#5c8258"/><circle cx="1008.8" cy="1599.5" r="7.2" fill="#86a87a"/><circle cx="1004.5" cy="1597.0" r="7.8" fill="#93b384"/></g>
<g opacity="0.92"><circle cx="1008.6" cy="1660.4" r="7.4" fill="#86a87a"/><circle cx="1002.4" cy="1650.3" r="6.2" fill="#93b384"/><circle cx="1005.7" cy="1658.1" r="6.3" fill="#668b60"/><circle cx="1014.0" cy="1659.5" r="5.2" fill="#769a6c"/><circle cx="1014.6" cy="1648.4" r="5.7" fill="#5c8258"/><circle cx="1020.2" cy="1658.8" r="5.1" fill="#86a87a"/><circle cx="1017.0" cy="1654.8" r="5.8" fill="#93b384"/></g>
<g opacity="0.92"><circle cx="1018.9" cy="1704.3" r="7.2" fill="#86a87a"/><circle cx="1006.7" cy="1695.9" r="5.4" fill="#93b384"/><circle cx="1018.7" cy="1711.7" r="5.9" fill="#668b60"/><circle cx="1021.5" cy="1696.6" r="7.5" fill="#769a6c"/><circle cx="1010.3" cy="1707.1" r="5.5" fill="#5c8258"/><circle cx="1016.3" cy="1712.9" r="6.5" fill="#86a87a"/><circle cx="1003.9" cy="1702.5" r="6.5" fill="#93b384"/></g>
<g opacity="0.92"><circle cx="1006.0" cy="1662.0" r="4.9" fill="#86a87a"/><circle cx="1001.8" cy="1652.3" r="5.5" fill="#93b384"/><circle cx="1003.3" cy="1659.8" r="6.6" fill="#668b60"/><circle cx="1015.8" cy="1650.2" r="7.7" fill="#769a6c"/><circle cx="1018.4" cy="1647.0" r="5.7" fill="#5c8258"/><circle cx="1006.5" cy="1656.5" r="5.9" fill="#86a87a"/><circle cx="1011.1" cy="1655.6" r="7.6" fill="#93b384"/></g>
<g opacity="0.92"><circle cx="1008.7" cy="1715.2" r="4.5" fill="#86a87a"/><circle cx="1009.8" cy="1700.2" r="5.8" fill="#93b384"/><circle cx="1018.2" cy="1717.3" r="7.2" fill="#668b60"/><circle cx="1002.4" cy="1711.6" r="7.7" fill="#769a6c"/><circle cx="1012.9" cy="1704.6" r="7.9" fill="#5c8258"/><circle cx="1013.1" cy="1702.2" r="6.3" fill="#86a87a"/><circle cx="1001.6" cy="1700.6" r="6.0" fill="#93b384"/></g>
<g opacity="0.92"><circle cx="1705.9" cy="1918.7" r="7.9" fill="#86a87a"/><circle cx="1691.2" cy="1922.1" r="5.6" fill="#93b384"/><circle cx="1697.1" cy="1922.5" r="6.4" fill="#668b60"/><circle cx="1697.4" cy="1911.1" r="5.9" fill="#769a6c"/><circle cx="1692.6" cy="1905.3" r="6.6" fill="#5c8258"/><circle cx="1693.5" cy="1922.3" r="5.0" fill="#86a87a"/><circle cx="1700.7" cy="1906.5" r="5.0" fill="#93b384"/></g>
<g opacity="0.92"><circle cx="1769.4" cy="1906.0" r="7.2" fill="#86a87a"/><circle cx="1770.8" cy="1917.8" r="6.6" fill="#93b384"/><circle cx="1762.2" cy="1913.9" r="4.9" fill="#668b60"/><circle cx="1759.6" cy="1921.5" r="6.1" fill="#769a6c"/><circle cx="1757.1" cy="1918.5" r="7.0" fill="#5c8258"/><circle cx="1762.3" cy="1907.2" r="7.8" fill="#86a87a"/><circle cx="1765.1" cy="1922.7" r="5.8" fill="#93b384"/></g>
<g opacity="0.92"><circle cx="1819.8" cy="1914.3" r="5.6" fill="#86a87a"/><circle cx="1820.2" cy="1923.0" r="4.8" fill="#93b384"/><circle cx="1827.9" cy="1919.6" r="4.6" fill="#668b60"/><circle cx="1817.6" cy="1920.2" r="7.2" fill="#769a6c"/><circle cx="1826.4" cy="1912.7" r="6.1" fill="#5c8258"/><circle cx="1816.2" cy="1918.2" r="5.0" fill="#86a87a"/><circle cx="1818.3" cy="1909.8" r="6.8" fill="#93b384"/></g>
<g opacity="0.92"><circle cx="1888.6" cy="1908.2" r="6.5" fill="#86a87a"/><circle cx="1896.3" cy="1921.7" r="5.5" fill="#93b384"/><circle cx="1885.7" cy="1918.2" r="5.6" fill="#668b60"/><circle cx="1894.4" cy="1914.6" r="6.1" fill="#769a6c"/><circle cx="1879.3" cy="1920.2" r="5.2" fill="#5c8258"/><circle cx="1879.9" cy="1922.2" r="5.7" fill="#86a87a"/><circle cx="1879.2" cy="1913.3" r="7.5" fill="#93b384"/></g>
<g opacity="0.92"><circle cx="1937.5" cy="1919.2" r="5.1" fill="#86a87a"/><circle cx="1939.7" cy="1918.9" r="5.6" fill="#93b384"/><circle cx="1951.2" cy="1915.1" r="5.6" fill="#668b60"/><circle cx="1943.2" cy="1915.7" r="6.4" fill="#769a6c"/><circle cx="1937.0" cy="1920.8" r="7.8" fill="#5c8258"/><circle cx="1936.5" cy="1909.5" r="6.7" fill="#86a87a"/><circle cx="1938.6" cy="1913.6" r="6.6" fill="#93b384"/></g>
<g opacity="0.92"><circle cx="1961.8" cy="1830.4" r="4.5" fill="#86a87a"/><circle cx="1955.0" cy="1815.6" r="7.6" fill="#93b384"/><circle cx="1955.7" cy="1817.7" r="5.2" fill="#668b60"/><circle cx="1958.3" cy="1827.5" r="4.9" fill="#769a6c"/><circle cx="1951.0" cy="1825.4" r="5.2" fill="#5c8258"/><circle cx="1961.6" cy="1829.2" r="6.1" fill="#86a87a"/><circle cx="1957.9" cy="1817.1" r="5.0" fill="#93b384"/></g>
<g opacity="0.92"><circle cx="2021.2" cy="1814.7" r="6.4" fill="#86a87a"/><circle cx="2024.6" cy="1812.5" r="5.1" fill="#93b384"/><circle cx="2025.4" cy="1818.1" r="5.2" fill="#668b60"/><circle cx="2011.4" cy="1815.4" r="5.1" fill="#769a6c"/><circle cx="2028.6" cy="1819.4" r="6.5" fill="#5c8258"/><circle cx="2016.6" cy="1812.1" r="4.8" fill="#86a87a"/><circle cx="2012.3" cy="1826.5" r="6.9" fill="#93b384"/></g>
<g opacity="0.92"><circle cx="2065.6" cy="1824.9" r="6.1" fill="#86a87a"/><circle cx="2050.7" cy="1816.1" r="7.9" fill="#93b384"/><circle cx="2063.7" cy="1816.8" r="7.6" fill="#668b60"/><circle cx="2053.9" cy="1818.7" r="7.2" fill="#769a6c"/><circle cx="2064.5" cy="1819.6" r="7.6" fill="#5c8258"/><circle cx="2065.1" cy="1821.0" r="5.4" fill="#86a87a"/><circle cx="2056.9" cy="1822.4" r="7.7" fill="#93b384"/></g>
<g opacity="0.92"><circle cx="2115.3" cy="1820.9" r="5.1" fill="#86a87a"/><circle cx="2123.8" cy="1819.0" r="6.7" fill="#93b384"/><circle cx="2117.3" cy="1823.1" r="6.3" fill="#668b60"/><circle cx="2116.7" cy="1818.7" r="5.9" fill="#769a6c"/><circle cx="2115.0" cy="1812.8" r="5.1" fill="#5c8258"/><circle cx="2108.8" cy="1829.5" r="6.3" fill="#86a87a"/><circle cx="2111.0" cy="1814.3" r="5.4" fill="#93b384"/></g>
<g opacity="0.92"><circle cx="2014.2" cy="1909.7" r="4.8" fill="#86a87a"/><circle cx="2018.8" cy="1914.2" r="4.9" fill="#93b384"/><circle cx="2000.6" cy="1922.5" r="6.9" fill="#668b60"/><circle cx="2017.7" cy="1908.0" r="6.7" fill="#769a6c"/><circle cx="2002.2" cy="1911.4" r="4.6" fill="#5c8258"/><circle cx="2012.8" cy="1911.0" r="4.8" fill="#86a87a"/><circle cx="2016.3" cy="1910.1" r="7.8" fill="#93b384"/></g>
<g opacity="0.92"><circle cx="2070.8" cy="1920.7" r="7.3" fill="#86a87a"/><circle cx="2070.2" cy="1918.0" r="4.6" fill="#93b384"/><circle cx="2065.2" cy="1923.3" r="5.1" fill="#668b60"/><circle cx="2071.6" cy="1914.0" r="5.4" fill="#769a6c"/><circle cx="2071.3" cy="1918.1" r="5.1" fill="#5c8258"/><circle cx="2063.7" cy="1914.7" r="5.2" fill="#86a87a"/><circle cx="2076.6" cy="1912.3" r="6.0" fill="#93b384"/></g>
<g opacity="0.92"><circle cx="2141.1" cy="1917.6" r="6.3" fill="#86a87a"/><circle cx="2143.6" cy="1906.8" r="7.2" fill="#93b384"/><circle cx="2142.6" cy="1911.0" r="7.2" fill="#668b60"/><circle cx="2137.3" cy="1911.2" r="6.0" fill="#769a6c"/><circle cx="2128.4" cy="1912.4" r="5.3" fill="#5c8258"/><circle cx="2140.7" cy="1909.3" r="5.7" fill="#86a87a"/><circle cx="2137.3" cy="1919.2" r="5.7" fill="#93b384"/></g>
<g opacity="0.92"><circle cx="3016.8" cy="1819.6" r="5.3" fill="#86a87a"/><circle cx="3009.0" cy="1821.7" r="5.9" fill="#93b384"/><circle cx="3025.9" cy="1815.8" r="7.0" fill="#668b60"/><circle cx="3015.4" cy="1817.8" r="7.3" fill="#769a6c"/><circle cx="3018.6" cy="1815.8" r="5.6" fill="#5c8258"/><circle cx="3021.0" cy="1825.0" r="5.2" fill="#86a87a"/><circle cx="3025.1" cy="1817.5" r="4.9" fill="#93b384"/></g>
<g opacity="0.92"><circle cx="3083.1" cy="1820.5" r="5.6" fill="#86a87a"/><circle cx="3087.5" cy="1814.3" r="5.6" fill="#93b384"/><circle cx="3080.0" cy="1827.4" r="7.3" fill="#668b60"/><circle cx="3087.1" cy="1816.1" r="6.5" fill="#769a6c"/><circle cx="3087.2" cy="1824.0" r="6.5" fill="#5c8258"/><circle cx="3089.9" cy="1816.0" r="7.3" fill="#86a87a"/><circle cx="3091.2" cy="1829.4" r="4.5" fill="#93b384"/></g>
<g opacity="0.92"><circle cx="3024.5" cy="1941.9" r="5.9" fill="#86a87a"/><circle cx="3009.9" cy="1932.6" r="7.5" fill="#93b384"/><circle cx="3008.1" cy="1924.0" r="5.8" fill="#668b60"/><circle cx="3010.4" cy="1927.4" r="5.9" fill="#769a6c"/><circle cx="3008.3" cy="1941.7" r="6.5" fill="#5c8258"/><circle cx="3024.2" cy="1942.4" r="4.8" fill="#86a87a"/><circle cx="3011.1" cy="1924.9" r="8.0" fill="#93b384"/></g>
<g opacity="0.92"><circle cx="3092.8" cy="1935.2" r="7.1" fill="#86a87a"/><circle cx="3094.9" cy="1941.9" r="7.3" fill="#93b384"/><circle cx="3089.9" cy="1930.3" r="7.0" fill="#668b60"/><circle cx="3092.8" cy="1926.5" r="4.8" fill="#769a6c"/><circle cx="3086.9" cy="1933.5" r="4.9" fill="#5c8258"/><circle cx="3087.0" cy="1932.0" r="7.5" fill="#86a87a"/><circle cx="3097.3" cy="1938.4" r="5.8" fill="#93b384"/></g>
<g opacity="0.92"><circle cx="2941.2" cy="1284.5" r="5.6" fill="#86a87a"/><circle cx="2952.8" cy="1277.9" r="5.6" fill="#93b384"/><circle cx="2944.2" cy="1284.9" r="6.6" fill="#668b60"/><circle cx="2944.8" cy="1291.4" r="4.8" fill="#769a6c"/><circle cx="2956.1" cy="1288.6" r="6.3" fill="#5c8258"/><circle cx="2952.6" cy="1283.3" r="7.5" fill="#86a87a"/><circle cx="2949.3" cy="1294.6" r="5.7" fill="#93b384"/></g>
<g opacity="0.92"><circle cx="2958.1" cy="1310.8" r="6.8" fill="#86a87a"/><circle cx="2945.2" cy="1324.5" r="7.4" fill="#93b384"/><circle cx="2950.3" cy="1312.4" r="7.7" fill="#668b60"/><circle cx="2942.8" cy="1313.3" r="5.1" fill="#769a6c"/><circle cx="2942.7" cy="1322.8" r="7.0" fill="#5c8258"/><circle cx="2956.4" cy="1314.7" r="4.9" fill="#86a87a"/><circle cx="2942.5" cy="1311.3" r="5.5" fill="#93b384"/></g>
<g opacity="0.92"><circle cx="2949.4" cy="1342.4" r="6.6" fill="#86a87a"/><circle cx="2942.6" cy="1348.2" r="6.4" fill="#93b384"/><circle cx="2955.3" cy="1345.5" r="7.9" fill="#668b60"/><circle cx="2948.2" cy="1358.0" r="7.8" fill="#769a6c"/><circle cx="2943.0" cy="1355.8" r="5.8" fill="#5c8258"/><circle cx="2949.2" cy="1345.9" r="6.3" fill="#86a87a"/><circle cx="2951.2" cy="1352.1" r="7.6" fill="#93b384"/></g>
<g opacity="0.92"><circle cx="2954.1" cy="1390.5" r="5.7" fill="#86a87a"/><circle cx="2960.8" cy="1379.2" r="7.7" fill="#93b384"/><circle cx="2950.7" cy="1375.1" r="5.4" fill="#668b60"/><circle cx="2946.7" cy="1374.0" r="5.0" fill="#769a6c"/><circle cx="2954.7" cy="1377.6" r="5.3" fill="#5c8258"/><circle cx="2956.5" cy="1389.3" r="7.7" fill="#86a87a"/><circle cx="2961.8" cy="1387.8" r="7.0" fill="#93b384"/></g>
<g opacity="0.92"><circle cx="2952.1" cy="1409.3" r="6.5" fill="#86a87a"/><circle cx="2951.9" cy="1403.4" r="8.0" fill="#93b384"/><circle cx="2961.1" cy="1412.2" r="7.4" fill="#668b60"/><circle cx="2954.8" cy="1407.6" r="7.8" fill="#769a6c"/><circle cx="2955.0" cy="1416.3" r="7.2" fill="#5c8258"/><circle cx="2944.2" cy="1405.9" r="6.5" fill="#86a87a"/><circle cx="2945.5" cy="1417.6" r="4.9" fill="#93b384"/></g>
<g opacity="0.92"><circle cx="2959.4" cy="1593.7" r="6.3" fill="#86a87a"/><circle cx="2947.2" cy="1600.7" r="6.5" fill="#93b384"/><circle cx="2942.9" cy="1602.1" r="5.7" fill="#668b60"/><circle cx="2945.1" cy="1588.0" r="4.8" fill="#769a6c"/><circle cx="2945.2" cy="1593.5" r="6.6" fill="#5c8258"/><circle cx="2956.9" cy="1601.5" r="7.9" fill="#86a87a"/><circle cx="2951.9" cy="1598.7" r="6.4" fill="#93b384"/></g>
<g opacity="0.92"><circle cx="2947.6" cy="1614.9" r="6.2" fill="#86a87a"/><circle cx="2944.7" cy="1623.5" r="6.2" fill="#93b384"/><circle cx="2960.2" cy="1632.0" r="6.3" fill="#668b60"/><circle cx="2953.7" cy="1615.0" r="7.8" fill="#769a6c"/><circle cx="2950.1" cy="1622.1" r="5.2" fill="#5c8258"/><circle cx="2958.5" cy="1629.1" r="7.2" fill="#86a87a"/><circle cx="2949.7" cy="1628.4" r="7.3" fill="#93b384"/></g>
<g opacity="0.92"><circle cx="2956.0" cy="1654.7" r="4.6" fill="#86a87a"/><circle cx="2949.6" cy="1650.9" r="7.8" fill="#93b384"/><circle cx="2947.8" cy="1658.2" r="6.5" fill="#668b60"/><circle cx="2951.5" cy="1658.0" r="7.8" fill="#769a6c"/><circle cx="2948.6" cy="1653.0" r="5.4" fill="#5c8258"/><circle cx="2949.1" cy="1657.0" r="6.6" fill="#86a87a"/><circle cx="2949.5" cy="1666.2" r="6.0" fill="#93b384"/></g>
<g opacity="0.92"><circle cx="2942.7" cy="1697.9" r="6.6" fill="#86a87a"/><circle cx="2944.4" cy="1698.0" r="6.8" fill="#93b384"/><circle cx="2946.4" cy="1702.5" r="7.4" fill="#668b60"/><circle cx="2948.9" cy="1693.1" r="6.5" fill="#769a6c"/><circle cx="2950.4" cy="1702.6" r="5.8" fill="#5c8258"/><circle cx="2943.9" cy="1702.3" r="5.8" fill="#86a87a"/><circle cx="2946.0" cy="1689.6" r="7.2" fill="#93b384"/></g>
<g opacity="0.92"><circle cx="2947.7" cy="1718.9" r="6.0" fill="#86a87a"/><circle cx="2947.7" cy="1723.4" r="7.1" fill="#93b384"/><circle cx="2949.9" cy="1726.3" r="5.3" fill="#668b60"/><circle cx="2947.7" cy="1715.5" r="7.9" fill="#769a6c"/><circle cx="2950.1" cy="1724.6" r="7.4" fill="#5c8258"/><circle cx="2949.6" cy="1716.9" r="5.9" fill="#86a87a"/><circle cx="2959.9" cy="1718.7" r="7.6" fill="#93b384"/></g>
<g opacity="0.92"><circle cx="2953.4" cy="1645.0" r="8.0" fill="#86a87a"/><circle cx="2945.9" cy="1652.9" r="7.4" fill="#93b384"/><circle cx="2949.3" cy="1652.8" r="5.6" fill="#668b60"/><circle cx="2946.4" cy="1654.0" r="6.7" fill="#769a6c"/><circle cx="2946.6" cy="1654.3" r="4.8" fill="#5c8258"/><circle cx="2942.7" cy="1653.6" r="7.8" fill="#86a87a"/><circle cx="2959.4" cy="1662.6" r="5.2" fill="#93b384"/></g>
<g opacity="0.92"><circle cx="2942.1" cy="1703.6" r="6.3" fill="#86a87a"/><circle cx="2948.4" cy="1705.7" r="5.9" fill="#93b384"/><circle cx="2949.2" cy="1699.2" r="7.9" fill="#668b60"/><circle cx="2959.0" cy="1703.3" r="6.2" fill="#769a6c"/><circle cx="2961.6" cy="1689.4" r="4.8" fill="#5c8258"/><circle cx="2952.4" cy="1697.2" r="4.6" fill="#86a87a"/><circle cx="2945.3" cy="1704.8" r="4.8" fill="#93b384"/></g>
<g opacity="0.92"><circle cx="2944.6" cy="1731.9" r="6.9" fill="#86a87a"/><circle cx="2952.9" cy="1721.9" r="4.9" fill="#93b384"/><circle cx="2958.2" cy="1731.7" r="4.9" fill="#668b60"/><circle cx="2948.2" cy="1726.4" r="5.8" fill="#769a6c"/><circle cx="2959.1" cy="1717.1" r="7.6" fill="#5c8258"/><circle cx="2952.0" cy="1724.9" r="6.4" fill="#86a87a"/><circle cx="2941.2" cy="1712.6" r="7.7" fill="#93b384"/></g>
<g opacity="0.92"><circle cx="2862.4" cy="2090.3" r="5.0" fill="#86a87a"/><circle cx="2850.9" cy="2104.3" r="7.1" fill="#93b384"/><circle cx="2851.8" cy="2107.3" r="6.5" fill="#668b60"/><circle cx="2864.6" cy="2093.5" r="5.0" fill="#769a6c"/><circle cx="2866.4" cy="2089.1" r="5.8" fill="#5c8258"/><circle cx="2852.7" cy="2097.7" r="6.5" fill="#86a87a"/><circle cx="2856.8" cy="2102.4" r="4.7" fill="#93b384"/></g>
<polyline points="1768.0,1124.0 1802.0,1100.5 2032.0,1100.5 2060.0,1122.0" fill="none" stroke="#e08a7c" stroke-width="4" stroke-dasharray="13 5"/>
</g>
<g filter="url(#soft2)">
<rect x="252.0" y="267.0" width="145.5" height="151.0" fill="#ffffff"/>
<text class="n" transform="translate(320.5,367.5) scale(1.07,1)" filter="url(#tb)">1</text>
<rect x="880.0" y="267.0" width="146.0" height="151.0" fill="#ffffff"/>
<text class="n" transform="translate(953.2,367.5) scale(1.07,1)" filter="url(#tb)">2</text>
<rect x="1549.0" y="267.0" width="147.0" height="151.0" fill="#ffffff"/>
<text class="n" transform="translate(1625.5,367.5) scale(1.07,1)" filter="url(#tb)">3</text>
<rect x="2198.0" y="267.0" width="147.0" height="151.0" fill="#ffffff"/>
<text class="n" transform="translate(2269.5,367.5) scale(1.07,1)" filter="url(#tb)">4</text>
<rect x="2833.0" y="267.0" width="146.0" height="151.0" fill="#ffffff"/>
<text class="n" transform="translate(2908.5,373.5) scale(1.07,1)" filter="url(#tb)">5</text>
<rect x="397.0" y="1031.5" width="147.0" height="151.5" fill="#ffffff"/>
<text class="n" transform="translate(468.2,1132.1) scale(1.07,1)" filter="url(#tb)">6</text>
<rect x="895.0" y="1031.5" width="147.0" height="151.5" fill="#ffffff"/>
<text class="n" transform="translate(972.5,1132.1) scale(1.07,1)" filter="url(#tb)">7</text>
<rect x="1498.0" y="1031.5" width="147.0" height="151.5" fill="#ffffff"/>
<text class="n" transform="translate(1575.5,1132.1) scale(1.07,1)" filter="url(#tb)">8</text>
<rect x="2203.0" y="1031.5" width="147.0" height="146.0" fill="#ffffff"/>
<text class="n" transform="translate(2274.5,1138.5) scale(1.07,1)" filter="url(#tb)">9</text>
<rect x="2801.5" y="1026.0" width="197.5" height="151.5" fill="#ffffff"/>
<text class="n" transform="translate(2907.0,1132.5) scale(1.03,1)" filter="url(#tb)" letter-spacing="4">10</text>
<rect x="361.0" y="1782.0" width="183.0" height="151.0" fill="#ffffff"/>
<text class="n" transform="translate(450.0,1883.1) scale(1.03,1)" filter="url(#tb)" letter-spacing="4">11</text>
<rect x="860.0" y="1782.0" width="182.0" height="151.0" fill="#ffffff"/>
<text class="n" transform="translate(957.0,1883.1) scale(1.03,1)" filter="url(#tb)" letter-spacing="4">12</text>
<rect x="1498.0" y="1776.0" width="198.0" height="152.0" fill="#ffffff"/>
<text class="n" transform="translate(1602.6,1877.5) scale(1.03,1)" filter="url(#tb)" letter-spacing="4">13</text>
<rect x="2183.5" y="1776.0" width="191.5" height="152.0" fill="#ffffff"/>
<text class="n" transform="translate(2279.4,1877.5) scale(1.03,1)" filter="url(#tb)" letter-spacing="4">14</text>
<rect x="2807.0" y="1776.0" width="192.0" height="152.0" fill="#ffffff"/>
<text class="n" transform="translate(2907.5,1883.1) scale(1.03,1)" filter="url(#tb)" letter-spacing="4">15</text>
</g>
<rect x="1287.0" y="115.0" width="626.0" height="143.5" fill="#ffffff"/>
<text class="c" transform="translate(1599.0,221.0) scale(1,1.015)">(-20.38, -108)</text>
<rect x="1355.5" y="835.0" width="490.5" height="144.0" fill="#fff" stroke="#000" stroke-width="3.2"/>
<text class="c" transform="translate(1599.1,940.0) scale(1,1.015)">(-20.34, 0)</text>
<rect x="2031.9" y="835.0" width="460.9" height="144.0" fill="#fff" stroke="#000" stroke-width="3.2"/>
<text class="c" transform="translate(2261.2,940.0) scale(1,1.015)">(76.40, 0)</text>
<rect x="2644.5" y="835.0" width="512.7" height="144.0" fill="#fff" stroke="#000" stroke-width="3.2"/>
<text class="c" transform="translate(2899.5,940.0) scale(1,1.015)">(166.46, 0)</text>
<rect x="1913.5" y="1950.6" width="685.6" height="143.4" fill="#fff" stroke="#000" stroke-width="3.2"/>
<text class="c" transform="translate(2255.5,2055.0) scale(1,1.015)">(76.40, 110.50)</text>
<rect x="2644.5" y="1950.6" width="737.5" height="143.4" fill="#fff" stroke="#000" stroke-width="3.2"/>
<text class="c" transform="translate(3010.5,2055.0) scale(1,1.015)">(166.40, 112.50)</text>
<rect x="3416.0" y="899.0" width="202.0" height="13.5" fill="#ff0000"/>
<polygon points="3614.5,885.0 3656.0,906.0 3614.5,927.0" fill="#ff0000"/>
<rect x="3414.4" y="906.5" width="13.8" height="199.5" fill="#4ba241"/>
<polygon points="3400.0,1104.5 3441.6,1104.5 3421.0,1145.5" fill="#4ba241"/>
<text x="3628.8" y="868" font-size="93" fill="#ff0000" text-anchor="middle">x</text>
<text x="3361.5" y="1151.5" font-size="93" fill="#4ba241" text-anchor="middle">y</text>
</svg>
</body></html>
